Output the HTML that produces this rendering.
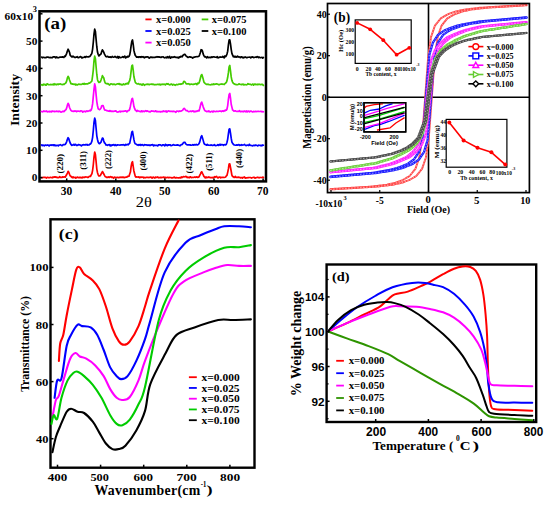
<!DOCTYPE html>
<html><head><meta charset="utf-8"><style>html,body{margin:0;padding:0;background:#fff;}svg{display:block}</style></head>
<body><svg width="550" height="505" viewBox="0 0 550 505">
<rect width="550" height="505" fill="#fff"/>
<rect x="39.5" y="11.3" width="226.5" height="170.1" fill="none" stroke="#000" stroke-width="2.5"/>
<path d="M41.50,177.58 L42.20,177.68 L42.90,177.48 L43.60,177.27 L44.30,177.42 L45.00,177.23 L45.70,177.60 L46.40,178.04 L47.10,177.40 L47.80,177.36 L48.50,177.74 L49.20,177.69 L49.90,177.60 L50.60,177.24 L51.30,177.55 L52.00,177.81 L52.70,177.09 L53.40,177.40 L54.10,176.89 L54.80,177.10 L55.50,176.90 L56.20,177.46 L56.90,177.09 L57.60,177.63 L58.30,177.58 L59.00,177.45 L59.70,176.62 L60.40,177.30 L61.10,177.46 L61.80,177.49 L62.50,176.88 L63.20,177.21 L63.90,176.96 L64.60,176.88 L65.30,177.18 L66.00,175.73 L66.70,174.55 L67.40,173.01 L68.10,171.36 L68.80,172.33 L69.50,174.25 L70.20,175.80 L70.90,176.26 L71.60,177.12 L72.30,177.73 L73.00,176.79 L73.70,177.68 L74.40,177.45 L75.10,177.20 L75.80,178.13 L76.50,177.71 L77.20,177.03 L77.90,177.47 L78.60,177.65 L79.30,177.38 L80.00,177.67 L80.70,177.40 L81.40,177.65 L82.10,177.91 L82.80,177.15 L83.50,177.44 L84.20,177.18 L84.90,177.36 L85.60,176.86 L86.30,177.02 L87.00,177.10 L87.70,177.40 L88.40,177.38 L89.10,176.38 L89.80,176.36 L90.50,176.51 L91.20,174.86 L91.90,173.72 L92.60,170.31 L93.30,164.74 L94.00,157.09 L94.70,152.01 L95.40,154.51 L96.10,161.68 L96.80,169.04 L97.50,172.68 L98.20,174.85 L98.90,175.93 L99.60,175.95 L100.30,175.55 L101.00,174.21 L101.70,173.04 L102.40,171.63 L103.10,172.55 L103.80,174.01 L104.50,175.38 L105.20,176.64 L105.90,176.78 L106.60,177.48 L107.30,177.21 L108.00,177.48 L108.70,176.87 L109.40,177.48 L110.10,176.79 L110.80,176.69 L111.50,177.31 L112.20,177.11 L112.90,177.50 L113.60,178.23 L114.30,177.16 L115.00,177.24 L115.70,177.53 L116.40,177.64 L117.10,177.40 L117.80,177.39 L118.50,177.71 L119.20,177.64 L119.90,177.09 L120.60,177.42 L121.30,177.45 L122.00,177.05 L122.70,177.50 L123.40,177.08 L124.10,177.70 L124.80,177.39 L125.50,177.30 L126.20,177.00 L126.90,177.07 L127.60,176.27 L128.30,176.32 L129.00,176.26 L129.70,173.98 L130.40,172.08 L131.10,166.55 L131.80,162.88 L132.50,161.72 L133.20,166.33 L133.90,170.95 L134.60,173.71 L135.30,176.37 L136.00,177.14 L136.70,176.92 L137.40,177.00 L138.10,177.15 L138.80,176.93 L139.50,177.71 L140.20,177.18 L140.90,177.38 L141.60,177.15 L142.30,177.23 L143.00,177.02 L143.70,177.92 L144.40,177.44 L145.10,177.84 L145.80,177.51 L146.50,177.27 L147.20,177.41 L147.90,177.33 L148.60,177.54 L149.30,177.41 L150.00,177.44 L150.70,177.06 L151.40,177.26 L152.10,178.13 L152.80,177.32 L153.50,177.19 L154.20,177.67 L154.90,178.05 L155.60,177.05 L156.30,177.49 L157.00,177.34 L157.70,176.95 L158.40,177.82 L159.10,177.56 L159.80,177.59 L160.50,177.30 L161.20,177.73 L161.90,177.38 L162.60,177.52 L163.30,177.18 L164.00,177.14 L164.70,178.04 L165.40,177.39 L166.10,177.67 L166.80,177.56 L167.50,177.42 L168.20,177.39 L168.90,177.79 L169.60,177.46 L170.30,177.52 L171.00,177.58 L171.70,177.98 L172.40,177.81 L173.10,177.70 L173.80,177.37 L174.50,177.08 L175.20,177.89 L175.90,177.90 L176.60,177.51 L177.30,177.74 L178.00,177.82 L178.70,177.83 L179.40,177.85 L180.10,177.35 L180.80,178.00 L181.50,176.94 L182.20,177.46 L182.90,176.95 L183.60,176.62 L184.30,176.73 L185.00,176.83 L185.70,176.37 L186.40,176.56 L187.10,177.65 L187.80,177.10 L188.50,177.48 L189.20,177.80 L189.90,176.94 L190.60,176.78 L191.30,177.61 L192.00,177.53 L192.70,177.42 L193.40,177.51 L194.10,177.19 L194.80,176.95 L195.50,177.40 L196.20,177.09 L196.90,176.81 L197.60,177.48 L198.30,177.12 L199.00,176.87 L199.70,175.49 L200.40,174.11 L201.10,172.33 L201.80,171.80 L202.50,173.35 L203.20,174.71 L203.90,176.38 L204.60,177.05 L205.30,177.93 L206.00,176.85 L206.70,177.71 L207.40,177.40 L208.10,177.45 L208.80,176.97 L209.50,177.33 L210.20,177.76 L210.90,177.48 L211.60,177.54 L212.30,177.41 L213.00,177.92 L213.70,177.51 L214.40,176.74 L215.10,177.27 L215.80,176.82 L216.50,176.37 L217.20,177.31 L217.90,177.96 L218.60,177.50 L219.30,177.06 L220.00,177.12 L220.70,177.83 L221.40,177.46 L222.10,177.39 L222.80,177.31 L223.50,177.29 L224.20,177.47 L224.90,177.26 L225.60,176.92 L226.30,175.98 L227.00,175.31 L227.70,172.34 L228.40,168.93 L229.10,164.10 L229.80,163.90 L230.50,167.44 L231.20,171.23 L231.90,175.24 L232.60,176.65 L233.30,176.60 L234.00,177.30 L234.70,177.30 L235.40,176.35 L236.10,177.41 L236.80,177.35 L237.50,177.44 L238.20,177.06 L238.90,177.36 L239.60,177.41 L240.30,177.91 L241.00,177.62 L241.70,177.51 L242.40,178.06 L243.10,177.34 L243.80,177.40 L244.50,176.91 L245.20,178.10 L245.90,177.89 L246.60,177.87 L247.30,177.79 L248.00,177.60 L248.70,177.64 L249.40,177.48 L250.10,177.50 L250.80,177.59 L251.50,178.10 L252.20,177.77 L252.90,177.55 L253.60,177.37 L254.30,177.35 L255.00,178.14 L255.70,177.76 L256.40,177.60 L257.10,177.46 L257.80,177.19 L258.50,177.56 L259.20,177.89 L259.90,177.45 L260.60,177.50 L261.30,177.51 L262.00,177.62 L262.70,177.03 L263.40,177.50" fill="none" stroke="#ff0000" stroke-width="1.7" stroke-linejoin="round" stroke-linecap="round" />
<path d="M41.50,144.98 L42.20,145.59 L42.90,145.01 L43.60,145.48 L44.30,145.81 L45.00,145.16 L45.70,145.06 L46.40,145.34 L47.10,145.27 L47.80,144.92 L48.50,145.43 L49.20,145.97 L49.90,145.17 L50.60,145.19 L51.30,144.89 L52.00,145.37 L52.70,144.82 L53.40,144.86 L54.10,145.69 L54.80,144.93 L55.50,145.62 L56.20,145.77 L56.90,145.32 L57.60,145.41 L58.30,145.89 L59.00,145.13 L59.70,144.98 L60.40,144.69 L61.10,145.16 L61.80,145.63 L62.50,145.41 L63.20,144.69 L63.90,144.64 L64.60,144.58 L65.30,144.42 L66.00,143.25 L66.70,141.58 L67.40,139.28 L68.10,137.66 L68.80,138.75 L69.50,141.14 L70.20,143.00 L70.90,144.34 L71.60,145.33 L72.30,145.09 L73.00,145.00 L73.70,144.44 L74.40,145.20 L75.10,144.41 L75.80,144.61 L76.50,145.42 L77.20,145.37 L77.90,145.07 L78.60,144.53 L79.30,144.99 L80.00,144.88 L80.70,145.33 L81.40,145.89 L82.10,145.16 L82.80,144.79 L83.50,144.63 L84.20,145.00 L84.90,144.92 L85.60,144.54 L86.30,144.93 L87.00,144.43 L87.70,145.13 L88.40,145.00 L89.10,144.86 L89.80,144.09 L90.50,144.06 L91.20,143.05 L91.90,141.15 L92.60,137.35 L93.30,130.50 L94.00,122.40 L94.70,118.10 L95.40,120.46 L96.10,128.29 L96.80,135.83 L97.50,139.53 L98.20,142.16 L98.90,143.40 L99.60,143.64 L100.30,142.92 L101.00,142.19 L101.70,140.04 L102.40,138.05 L103.10,138.56 L103.80,141.10 L104.50,142.88 L105.20,143.25 L105.90,144.97 L106.60,144.95 L107.30,145.34 L108.00,144.80 L108.70,144.89 L109.40,144.63 L110.10,145.95 L110.80,145.02 L111.50,145.66 L112.20,144.89 L112.90,145.19 L113.60,144.55 L114.30,145.01 L115.00,145.50 L115.70,144.72 L116.40,145.54 L117.10,145.28 L117.80,144.80 L118.50,144.99 L119.20,145.00 L119.90,145.14 L120.60,144.96 L121.30,144.85 L122.00,145.02 L122.70,144.76 L123.40,144.65 L124.10,145.06 L124.80,145.35 L125.50,144.47 L126.20,144.95 L126.90,144.64 L127.60,144.40 L128.30,144.82 L129.00,143.83 L129.70,143.30 L130.40,139.93 L131.10,136.29 L131.80,132.10 L132.50,131.39 L133.20,135.40 L133.90,139.38 L134.60,142.57 L135.30,143.82 L136.00,144.07 L136.70,144.68 L137.40,144.87 L138.10,145.28 L138.80,144.69 L139.50,145.04 L140.20,144.49 L140.90,145.35 L141.60,144.76 L142.30,144.53 L143.00,145.16 L143.70,145.58 L144.40,144.66 L145.10,144.83 L145.80,144.95 L146.50,144.83 L147.20,145.36 L147.90,144.95 L148.60,144.98 L149.30,145.44 L150.00,144.98 L150.70,145.40 L151.40,144.91 L152.10,144.83 L152.80,144.61 L153.50,145.91 L154.20,145.14 L154.90,145.34 L155.60,145.25 L156.30,145.32 L157.00,145.28 L157.70,145.93 L158.40,144.90 L159.10,144.72 L159.80,144.91 L160.50,144.80 L161.20,145.53 L161.90,145.55 L162.60,144.93 L163.30,144.78 L164.00,145.14 L164.70,145.75 L165.40,144.28 L166.10,145.45 L166.80,144.89 L167.50,145.63 L168.20,144.89 L168.90,145.16 L169.60,144.73 L170.30,144.92 L171.00,145.74 L171.70,145.54 L172.40,145.11 L173.10,144.95 L173.80,144.59 L174.50,145.11 L175.20,145.23 L175.90,145.21 L176.60,145.20 L177.30,144.83 L178.00,145.18 L178.70,145.18 L179.40,145.62 L180.10,145.78 L180.80,145.00 L181.50,144.59 L182.20,144.41 L182.90,143.47 L183.60,142.49 L184.30,142.24 L185.00,142.37 L185.70,143.87 L186.40,144.38 L187.10,144.93 L187.80,144.96 L188.50,144.85 L189.20,144.80 L189.90,145.06 L190.60,144.96 L191.30,145.24 L192.00,145.15 L192.70,144.67 L193.40,145.16 L194.10,144.65 L194.80,144.88 L195.50,144.95 L196.20,144.28 L196.90,144.96 L197.60,144.85 L198.30,144.45 L199.00,143.65 L199.70,142.13 L200.40,139.34 L201.10,136.72 L201.80,135.64 L202.50,137.88 L203.20,140.37 L203.90,143.07 L204.60,144.20 L205.30,144.60 L206.00,144.71 L206.70,145.16 L207.40,144.44 L208.10,145.23 L208.80,145.19 L209.50,145.23 L210.20,145.28 L210.90,144.93 L211.60,145.07 L212.30,145.40 L213.00,145.33 L213.70,145.25 L214.40,144.65 L215.10,145.37 L215.80,145.59 L216.50,145.52 L217.20,145.25 L217.90,144.61 L218.60,145.48 L219.30,145.08 L220.00,144.23 L220.70,145.22 L221.40,144.54 L222.10,144.57 L222.80,144.75 L223.50,145.34 L224.20,144.67 L224.90,144.75 L225.60,144.99 L226.30,144.33 L227.00,142.26 L227.70,139.11 L228.40,133.87 L229.10,129.20 L229.80,128.87 L230.50,133.11 L231.20,138.16 L231.90,142.05 L232.60,143.25 L233.30,144.26 L234.00,144.86 L234.70,144.98 L235.40,145.26 L236.10,145.10 L236.80,144.91 L237.50,145.19 L238.20,144.75 L238.90,144.55 L239.60,145.35 L240.30,145.15 L241.00,145.29 L241.70,144.60 L242.40,145.08 L243.10,145.00 L243.80,144.92 L244.50,144.44 L245.20,145.12 L245.90,145.55 L246.60,145.38 L247.30,145.04 L248.00,145.25 L248.70,145.52 L249.40,144.29 L250.10,145.22 L250.80,145.45 L251.50,145.50 L252.20,145.86 L252.90,145.66 L253.60,145.38 L254.30,145.38 L255.00,145.55 L255.70,145.08 L256.40,145.26 L257.10,145.59 L257.80,145.96 L258.50,145.22 L259.20,145.26 L259.90,145.35 L260.60,145.75 L261.30,145.27 L262.00,145.80 L262.70,144.94 L263.40,145.22" fill="none" stroke="#0000ff" stroke-width="1.7" stroke-linejoin="round" stroke-linecap="round" />
<path d="M41.50,111.41 L42.20,111.75 L42.90,111.84 L43.60,110.95 L44.30,111.15 L45.00,111.59 L45.70,111.24 L46.40,110.94 L47.10,111.83 L47.80,111.64 L48.50,111.64 L49.20,111.30 L49.90,111.82 L50.60,111.38 L51.30,111.84 L52.00,111.14 L52.70,111.15 L53.40,111.52 L54.10,111.20 L54.80,111.68 L55.50,111.53 L56.20,111.11 L56.90,111.45 L57.60,111.30 L58.30,111.73 L59.00,111.18 L59.70,111.23 L60.40,111.79 L61.10,112.13 L61.80,112.02 L62.50,111.30 L63.20,111.30 L63.90,111.67 L64.60,110.91 L65.30,110.18 L66.00,109.57 L66.70,107.87 L67.40,105.09 L68.10,103.39 L68.80,104.46 L69.50,107.50 L70.20,108.96 L70.90,110.32 L71.60,110.95 L72.30,111.30 L73.00,111.06 L73.70,111.41 L74.40,110.96 L75.10,111.16 L75.80,110.95 L76.50,111.71 L77.20,111.31 L77.90,111.07 L78.60,111.20 L79.30,111.25 L80.00,111.56 L80.70,110.75 L81.40,110.94 L82.10,111.15 L82.80,112.15 L83.50,111.58 L84.20,111.18 L84.90,111.44 L85.60,111.87 L86.30,111.01 L87.00,110.90 L87.70,111.37 L88.40,111.01 L89.10,110.92 L89.80,110.28 L90.50,110.76 L91.20,109.90 L91.90,107.69 L92.60,103.91 L93.30,96.45 L94.00,89.34 L94.70,83.96 L95.40,86.89 L96.10,94.67 L96.80,101.57 L97.50,105.76 L98.20,108.78 L98.90,109.31 L99.60,109.64 L100.30,109.14 L101.00,108.12 L101.70,105.72 L102.40,105.59 L103.10,105.64 L103.80,107.73 L104.50,109.79 L105.20,110.21 L105.90,110.11 L106.60,110.66 L107.30,110.66 L108.00,110.98 L108.70,111.23 L109.40,110.54 L110.10,111.39 L110.80,110.76 L111.50,111.41 L112.20,111.28 L112.90,111.22 L113.60,111.32 L114.30,111.16 L115.00,111.14 L115.70,110.77 L116.40,111.35 L117.10,112.01 L117.80,112.06 L118.50,111.83 L119.20,111.61 L119.90,111.12 L120.60,111.86 L121.30,111.33 L122.00,111.31 L122.70,111.22 L123.40,111.34 L124.10,111.13 L124.80,111.22 L125.50,110.83 L126.20,111.02 L126.90,111.88 L127.60,110.94 L128.30,110.66 L129.00,110.44 L129.70,109.31 L130.40,106.19 L131.10,102.61 L131.80,99.17 L132.50,98.44 L133.20,101.80 L133.90,106.38 L134.60,108.42 L135.30,110.11 L136.00,110.50 L136.70,111.46 L137.40,110.39 L138.10,110.92 L138.80,111.03 L139.50,111.50 L140.20,111.51 L140.90,111.82 L141.60,110.80 L142.30,111.63 L143.00,111.28 L143.70,111.16 L144.40,111.59 L145.10,111.09 L145.80,110.69 L146.50,111.29 L147.20,110.90 L147.90,111.21 L148.60,111.57 L149.30,111.55 L150.00,112.00 L150.70,111.38 L151.40,110.91 L152.10,111.19 L152.80,111.13 L153.50,111.03 L154.20,111.61 L154.90,111.23 L155.60,110.77 L156.30,111.70 L157.00,111.42 L157.70,111.59 L158.40,111.50 L159.10,111.69 L159.80,111.48 L160.50,111.90 L161.20,111.61 L161.90,111.60 L162.60,111.61 L163.30,110.96 L164.00,111.41 L164.70,111.38 L165.40,111.54 L166.10,110.99 L166.80,112.04 L167.50,111.50 L168.20,111.04 L168.90,110.87 L169.60,111.36 L170.30,111.43 L171.00,111.21 L171.70,111.49 L172.40,111.23 L173.10,111.65 L173.80,111.20 L174.50,111.44 L175.20,111.79 L175.90,112.34 L176.60,111.08 L177.30,111.26 L178.00,111.12 L178.70,111.68 L179.40,110.98 L180.10,111.18 L180.80,111.28 L181.50,110.79 L182.20,110.44 L182.90,109.98 L183.60,108.63 L184.30,108.45 L185.00,109.21 L185.70,110.18 L186.40,110.69 L187.10,110.49 L187.80,111.10 L188.50,111.60 L189.20,111.54 L189.90,111.33 L190.60,111.05 L191.30,111.59 L192.00,111.16 L192.70,110.94 L193.40,111.06 L194.10,111.83 L194.80,111.37 L195.50,111.66 L196.20,111.04 L196.90,111.46 L197.60,110.79 L198.30,110.66 L199.00,110.87 L199.70,108.73 L200.40,105.70 L201.10,102.98 L201.80,102.15 L202.50,104.47 L203.20,106.82 L203.90,108.57 L204.60,110.25 L205.30,110.86 L206.00,111.10 L206.70,111.62 L207.40,111.34 L208.10,111.55 L208.80,110.92 L209.50,111.63 L210.20,112.07 L210.90,111.62 L211.60,111.45 L212.30,111.42 L213.00,112.00 L213.70,111.05 L214.40,111.34 L215.10,111.53 L215.80,111.63 L216.50,111.21 L217.20,111.46 L217.90,111.25 L218.60,111.38 L219.30,111.27 L220.00,110.90 L220.70,111.27 L221.40,111.55 L222.10,110.86 L222.80,111.06 L223.50,111.30 L224.20,110.58 L224.90,110.86 L225.60,110.13 L226.30,110.24 L227.00,109.04 L227.70,105.57 L228.40,99.46 L229.10,94.51 L229.80,93.50 L230.50,98.12 L231.20,104.23 L231.90,107.13 L232.60,109.93 L233.30,110.38 L234.00,111.24 L234.70,111.00 L235.40,110.82 L236.10,111.23 L236.80,111.46 L237.50,111.26 L238.20,111.45 L238.90,111.13 L239.60,110.59 L240.30,111.67 L241.00,111.62 L241.70,111.44 L242.40,111.42 L243.10,111.77 L243.80,111.25 L244.50,111.17 L245.20,111.36 L245.90,111.85 L246.60,110.95 L247.30,111.86 L248.00,111.22 L248.70,111.06 L249.40,111.89 L250.10,111.42 L250.80,111.00 L251.50,111.34 L252.20,111.79 L252.90,111.88 L253.60,111.32 L254.30,111.61 L255.00,111.72 L255.70,111.25 L256.40,111.60 L257.10,111.46 L257.80,111.29 L258.50,111.30 L259.20,111.50 L259.90,111.49 L260.60,111.28 L261.30,111.33 L262.00,111.87 L262.70,111.56 L263.40,111.79" fill="none" stroke="#ff00ff" stroke-width="1.7" stroke-linejoin="round" stroke-linecap="round" />
<path d="M41.50,84.90 L42.20,84.68 L42.90,85.27 L43.60,84.18 L44.30,84.75 L45.00,84.36 L45.70,85.12 L46.40,85.06 L47.10,83.78 L47.80,84.13 L48.50,84.70 L49.20,84.74 L49.90,84.72 L50.60,84.43 L51.30,84.61 L52.00,84.68 L52.70,84.42 L53.40,84.81 L54.10,83.65 L54.80,84.66 L55.50,84.07 L56.20,84.76 L56.90,84.34 L57.60,84.10 L58.30,84.53 L59.00,84.07 L59.70,84.06 L60.40,83.81 L61.10,84.33 L61.80,84.48 L62.50,84.62 L63.20,84.15 L63.90,84.48 L64.60,83.92 L65.30,83.42 L66.00,82.59 L66.70,80.82 L67.40,77.85 L68.10,76.38 L68.80,77.47 L69.50,80.01 L70.20,81.76 L70.90,83.65 L71.60,83.69 L72.30,84.22 L73.00,83.87 L73.70,84.34 L74.40,84.39 L75.10,84.13 L75.80,85.00 L76.50,84.43 L77.20,84.93 L77.90,84.65 L78.60,84.08 L79.30,84.18 L80.00,84.46 L80.70,84.32 L81.40,84.30 L82.10,84.17 L82.80,83.62 L83.50,84.15 L84.20,83.42 L84.90,84.30 L85.60,83.87 L86.30,83.82 L87.00,83.92 L87.70,84.01 L88.40,83.30 L89.10,83.03 L89.80,83.03 L90.50,82.30 L91.20,81.86 L91.90,80.89 L92.60,75.99 L93.30,69.84 L94.00,60.79 L94.70,56.10 L95.40,58.68 L96.10,66.74 L96.80,74.47 L97.50,79.71 L98.20,81.52 L98.90,82.40 L99.60,82.10 L100.30,81.99 L101.00,80.05 L101.70,77.96 L102.40,75.68 L103.10,76.82 L103.80,78.04 L104.50,81.09 L105.20,83.06 L105.90,83.38 L106.60,83.55 L107.30,83.88 L108.00,83.58 L108.70,84.17 L109.40,85.03 L110.10,84.61 L110.80,83.85 L111.50,83.96 L112.20,84.14 L112.90,84.65 L113.60,84.02 L114.30,84.07 L115.00,84.63 L115.70,84.63 L116.40,84.20 L117.10,83.94 L117.80,83.79 L118.50,84.08 L119.20,83.54 L119.90,84.58 L120.60,84.08 L121.30,84.46 L122.00,84.93 L122.70,84.67 L123.40,83.83 L124.10,84.50 L124.80,84.55 L125.50,83.83 L126.20,83.67 L126.90,83.85 L127.60,83.15 L128.30,83.91 L129.00,81.83 L129.70,80.52 L130.40,77.13 L131.10,71.37 L131.80,65.83 L132.50,65.12 L133.20,70.00 L133.90,76.52 L134.60,79.56 L135.30,82.41 L136.00,83.05 L136.70,83.72 L137.40,83.95 L138.10,83.68 L138.80,83.87 L139.50,84.44 L140.20,84.33 L140.90,84.01 L141.60,85.00 L142.30,85.12 L143.00,83.82 L143.70,84.45 L144.40,85.24 L145.10,84.65 L145.80,84.46 L146.50,84.32 L147.20,84.21 L147.90,84.33 L148.60,84.22 L149.30,84.68 L150.00,84.29 L150.70,84.27 L151.40,84.01 L152.10,84.42 L152.80,84.13 L153.50,84.38 L154.20,84.81 L154.90,84.57 L155.60,84.62 L156.30,84.57 L157.00,84.47 L157.70,84.41 L158.40,84.35 L159.10,84.72 L159.80,84.08 L160.50,84.93 L161.20,84.47 L161.90,84.20 L162.60,84.29 L163.30,84.22 L164.00,84.51 L164.70,84.21 L165.40,84.86 L166.10,84.18 L166.80,83.66 L167.50,84.20 L168.20,83.75 L168.90,84.44 L169.60,84.83 L170.30,84.68 L171.00,83.99 L171.70,84.18 L172.40,85.07 L173.10,84.56 L173.80,84.45 L174.50,84.81 L175.20,85.29 L175.90,84.88 L176.60,84.47 L177.30,84.54 L178.00,84.62 L178.70,84.17 L179.40,83.99 L180.10,84.34 L180.80,83.92 L181.50,84.04 L182.20,83.67 L182.90,83.70 L183.60,81.65 L184.30,81.41 L185.00,81.87 L185.70,83.01 L186.40,83.98 L187.10,83.86 L187.80,83.93 L188.50,83.72 L189.20,84.00 L189.90,84.53 L190.60,84.36 L191.30,83.99 L192.00,84.22 L192.70,84.35 L193.40,84.50 L194.10,84.10 L194.80,84.19 L195.50,83.61 L196.20,83.79 L196.90,84.68 L197.60,83.21 L198.30,83.55 L199.00,83.00 L199.70,81.17 L200.40,78.30 L201.10,75.54 L201.80,74.53 L202.50,76.62 L203.20,79.09 L203.90,82.01 L204.60,82.99 L205.30,83.62 L206.00,84.11 L206.70,84.37 L207.40,84.52 L208.10,84.08 L208.80,84.61 L209.50,84.72 L210.20,84.73 L210.90,84.83 L211.60,84.30 L212.30,84.30 L213.00,84.65 L213.70,83.89 L214.40,84.44 L215.10,84.18 L215.80,84.23 L216.50,83.75 L217.20,84.04 L217.90,84.33 L218.60,84.64 L219.30,84.66 L220.00,84.26 L220.70,84.20 L221.40,83.94 L222.10,84.33 L222.80,84.04 L223.50,84.26 L224.20,84.56 L224.90,83.76 L225.60,82.95 L226.30,82.49 L227.00,80.63 L227.70,77.26 L228.40,72.67 L229.10,66.86 L229.80,65.44 L230.50,70.94 L231.20,76.92 L231.90,80.36 L232.60,82.28 L233.30,83.25 L234.00,83.83 L234.70,84.14 L235.40,84.45 L236.10,84.55 L236.80,84.61 L237.50,84.72 L238.20,84.51 L238.90,83.77 L239.60,84.29 L240.30,84.46 L241.00,84.23 L241.70,84.70 L242.40,84.27 L243.10,84.08 L243.80,84.92 L244.50,84.65 L245.20,84.50 L245.90,84.76 L246.60,84.81 L247.30,84.56 L248.00,83.58 L248.70,84.21 L249.40,84.29 L250.10,84.11 L250.80,84.53 L251.50,84.88 L252.20,84.29 L252.90,84.07 L253.60,85.18 L254.30,84.31 L255.00,84.04 L255.70,84.55 L256.40,84.62 L257.10,84.23 L257.80,84.75 L258.50,84.30 L259.20,84.15 L259.90,84.54 L260.60,84.75 L261.30,84.26 L262.00,84.59 L262.70,84.45 L263.40,85.47" fill="none" stroke="#44cc00" stroke-width="1.7" stroke-linejoin="round" stroke-linecap="round" />
<path d="M41.50,57.03 L42.20,57.76 L42.90,57.26 L43.60,57.23 L44.30,57.53 L45.00,57.58 L45.70,57.71 L46.40,57.38 L47.10,57.06 L47.80,57.08 L48.50,57.44 L49.20,57.47 L49.90,57.75 L50.60,57.40 L51.30,57.63 L52.00,57.78 L52.70,57.31 L53.40,56.73 L54.10,56.83 L54.80,56.74 L55.50,57.79 L56.20,56.93 L56.90,57.65 L57.60,57.42 L58.30,57.80 L59.00,57.54 L59.70,57.14 L60.40,57.09 L61.10,57.17 L61.80,57.17 L62.50,56.88 L63.20,56.99 L63.90,57.47 L64.60,56.12 L65.30,56.35 L66.00,54.88 L66.70,53.32 L67.40,51.06 L68.10,49.25 L68.80,50.60 L69.50,52.23 L70.20,55.27 L70.90,55.88 L71.60,56.85 L72.30,56.92 L73.00,56.05 L73.70,56.75 L74.40,57.13 L75.10,57.62 L75.80,57.20 L76.50,57.20 L77.20,56.62 L77.90,57.62 L78.60,57.75 L79.30,57.13 L80.00,57.03 L80.70,56.53 L81.40,57.40 L82.10,58.02 L82.80,57.31 L83.50,57.48 L84.20,57.20 L84.90,56.63 L85.60,57.40 L86.30,56.45 L87.00,56.74 L87.70,56.83 L88.40,56.92 L89.10,56.61 L89.80,56.37 L90.50,55.58 L91.20,54.60 L91.90,53.23 L92.60,49.07 L93.30,42.23 L94.00,34.05 L94.70,29.14 L95.40,31.42 L96.10,39.43 L96.80,46.72 L97.50,52.09 L98.20,54.50 L98.90,55.98 L99.60,54.90 L100.30,54.68 L101.00,53.91 L101.70,51.51 L102.40,49.86 L103.10,51.01 L103.80,52.38 L104.50,54.13 L105.20,55.36 L105.90,56.56 L106.60,56.82 L107.30,56.36 L108.00,56.57 L108.70,57.16 L109.40,57.21 L110.10,56.82 L110.80,57.29 L111.50,57.29 L112.20,56.48 L112.90,57.01 L113.60,57.27 L114.30,56.93 L115.00,56.39 L115.70,57.04 L116.40,57.41 L117.10,57.70 L117.80,56.38 L118.50,58.06 L119.20,56.75 L119.90,57.47 L120.60,57.56 L121.30,57.46 L122.00,57.16 L122.70,56.68 L123.40,57.28 L124.10,56.78 L124.80,56.11 L125.50,57.94 L126.20,57.12 L126.90,57.41 L127.60,56.31 L128.30,56.87 L129.00,56.30 L129.70,54.79 L130.40,51.10 L131.10,45.79 L131.80,41.31 L132.50,39.97 L133.20,44.44 L133.90,50.21 L134.60,53.38 L135.30,55.47 L136.00,56.24 L136.70,57.27 L137.40,57.22 L138.10,56.86 L138.80,57.38 L139.50,56.74 L140.20,56.94 L140.90,57.41 L141.60,56.68 L142.30,57.04 L143.00,56.69 L143.70,57.21 L144.40,57.75 L145.10,56.93 L145.80,57.28 L146.50,56.89 L147.20,56.81 L147.90,56.79 L148.60,57.73 L149.30,58.06 L150.00,57.40 L150.70,56.99 L151.40,57.49 L152.10,57.13 L152.80,57.53 L153.50,57.35 L154.20,57.35 L154.90,57.46 L155.60,57.05 L156.30,57.11 L157.00,56.65 L157.70,57.10 L158.40,56.76 L159.10,57.21 L159.80,56.92 L160.50,57.30 L161.20,57.42 L161.90,56.76 L162.60,56.98 L163.30,56.93 L164.00,57.52 L164.70,57.86 L165.40,57.56 L166.10,57.14 L166.80,57.78 L167.50,56.73 L168.20,57.79 L168.90,57.03 L169.60,56.29 L170.30,58.19 L171.00,57.81 L171.70,56.89 L172.40,57.31 L173.10,57.18 L173.80,57.28 L174.50,56.73 L175.20,57.00 L175.90,57.40 L176.60,57.31 L177.30,57.64 L178.00,57.24 L178.70,58.01 L179.40,56.92 L180.10,57.22 L180.80,56.38 L181.50,56.43 L182.20,56.90 L182.90,55.35 L183.60,54.94 L184.30,54.24 L185.00,54.37 L185.70,55.54 L186.40,56.24 L187.10,56.67 L187.80,57.30 L188.50,57.33 L189.20,56.94 L189.90,56.84 L190.60,57.26 L191.30,57.13 L192.00,57.53 L192.70,58.09 L193.40,57.45 L194.10,57.13 L194.80,57.06 L195.50,56.79 L196.20,56.73 L196.90,56.63 L197.60,56.73 L198.30,56.48 L199.00,56.29 L199.70,54.59 L200.40,52.49 L201.10,49.72 L201.80,49.90 L202.50,51.19 L203.20,54.12 L203.90,55.62 L204.60,56.85 L205.30,56.66 L206.00,57.17 L206.70,57.95 L207.40,56.63 L208.10,57.51 L208.80,57.72 L209.50,57.29 L210.20,57.42 L210.90,57.61 L211.60,56.94 L212.30,57.32 L213.00,56.87 L213.70,56.94 L214.40,56.96 L215.10,57.13 L215.80,57.23 L216.50,57.33 L217.20,56.65 L217.90,57.86 L218.60,57.55 L219.30,57.38 L220.00,56.97 L220.70,57.04 L221.40,57.24 L222.10,57.15 L222.80,56.34 L223.50,57.13 L224.20,57.81 L224.90,55.93 L225.60,56.66 L226.30,55.77 L227.00,53.99 L227.70,51.15 L228.40,44.92 L229.10,40.11 L229.80,39.79 L230.50,43.81 L231.20,49.34 L231.90,53.43 L232.60,55.21 L233.30,56.75 L234.00,56.22 L234.70,57.05 L235.40,56.40 L236.10,57.18 L236.80,56.96 L237.50,56.12 L238.20,57.08 L238.90,56.73 L239.60,56.98 L240.30,57.71 L241.00,56.77 L241.70,56.80 L242.40,57.72 L243.10,57.25 L243.80,57.77 L244.50,57.34 L245.20,56.91 L245.90,57.21 L246.60,57.68 L247.30,57.58 L248.00,57.25 L248.70,57.27 L249.40,57.21 L250.10,57.05 L250.80,57.95 L251.50,57.26 L252.20,56.86 L252.90,57.09 L253.60,57.53 L254.30,57.50 L255.00,57.22 L255.70,57.03 L256.40,57.28 L257.10,56.67 L257.80,56.81 L258.50,57.56 L259.20,57.10 L259.90,57.41 L260.60,57.72 L261.30,57.51 L262.00,57.29 L262.70,58.05 L263.40,57.52" fill="none" stroke="#000000" stroke-width="1.7" stroke-linejoin="round" stroke-linecap="round" />
<line x1="66.7" y1="181.4" x2="66.7" y2="178.4" stroke="#000" stroke-width="1.5"/>
<text x="60.75" y="194.70" font-size="11.5" style="font-family:'Liberation Serif',serif;font-weight:bold" fill="#000">30</text>
<line x1="115.80000000000001" y1="181.4" x2="115.80000000000001" y2="178.4" stroke="#000" stroke-width="1.5"/>
<text x="109.99" y="194.70" font-size="11.5" style="font-family:'Liberation Serif',serif;font-weight:bold" fill="#000">40</text>
<line x1="164.9" y1="181.4" x2="164.9" y2="178.4" stroke="#000" stroke-width="1.5"/>
<text x="158.94" y="194.70" font-size="11.5" style="font-family:'Liberation Serif',serif;font-weight:bold" fill="#000">50</text>
<line x1="214.0" y1="181.4" x2="214.0" y2="178.4" stroke="#000" stroke-width="1.5"/>
<text x="208.07" y="194.70" font-size="11.5" style="font-family:'Liberation Serif',serif;font-weight:bold" fill="#000">60</text>
<line x1="263.1" y1="181.4" x2="263.1" y2="178.4" stroke="#000" stroke-width="1.5"/>
<text x="257.04" y="194.70" font-size="11.5" style="font-family:'Liberation Serif',serif;font-weight:bold" fill="#000">70</text>
<line x1="39.5" y1="177.6" x2="42.5" y2="177.6" stroke="#000" stroke-width="1.5"/>
<text x="31.68" y="181.40" font-size="11.3" style="font-family:'Liberation Serif',serif;font-weight:bold" fill="#000">0</text>
<line x1="39.5" y1="150.29999999999998" x2="42.5" y2="150.29999999999998" stroke="#000" stroke-width="1.5"/>
<text x="26.03" y="154.10" font-size="11.3" style="font-family:'Liberation Serif',serif;font-weight:bold" fill="#000">10</text>
<line x1="39.5" y1="123.0" x2="42.5" y2="123.0" stroke="#000" stroke-width="1.5"/>
<text x="26.03" y="126.80" font-size="11.3" style="font-family:'Liberation Serif',serif;font-weight:bold" fill="#000">20</text>
<line x1="39.5" y1="95.69999999999999" x2="42.5" y2="95.69999999999999" stroke="#000" stroke-width="1.5"/>
<text x="26.03" y="99.50" font-size="11.3" style="font-family:'Liberation Serif',serif;font-weight:bold" fill="#000">30</text>
<line x1="39.5" y1="68.39999999999999" x2="42.5" y2="68.39999999999999" stroke="#000" stroke-width="1.5"/>
<text x="26.03" y="72.20" font-size="11.3" style="font-family:'Liberation Serif',serif;font-weight:bold" fill="#000">40</text>
<line x1="39.5" y1="41.099999999999994" x2="42.5" y2="41.099999999999994" stroke="#000" stroke-width="1.5"/>
<text x="26.03" y="44.90" font-size="11.3" style="font-family:'Liberation Serif',serif;font-weight:bold" fill="#000">50</text>
<line x1="39.5" y1="13.799999999999983" x2="42.5" y2="13.799999999999983" stroke="#000" stroke-width="1.5"/>
<text x="4.61" y="19.50" font-size="11.4" style="font-family:'Liberation Serif',serif;font-weight:bold" fill="#000">60x10</text>
<text x="32.88" y="12.30" font-size="7.4" style="font-family:'Liberation Serif',serif;font-weight:bold" fill="#000" textLength="4.20" lengthAdjust="spacingAndGlyphs">3</text>
<text x="-0.47" y="0" font-size="13" style="font-family:'Liberation Serif',serif;font-weight:bold" fill="#000" textLength="52.20" lengthAdjust="spacingAndGlyphs" transform="translate(19.00,125.60) rotate(-90)">Intensity</text>
<text x="135.88" y="206.60" font-size="15" style="font-family:'Liberation Serif',serif;font-weight:normal" fill="#000" textLength="16.01" lengthAdjust="spacingAndGlyphs">2θ</text>
<text x="44.27" y="28.50" font-size="16.4" style="font-family:'Liberation Serif',serif;font-weight:bold" fill="#000" textLength="22.06" lengthAdjust="spacingAndGlyphs">(a)</text>
<text x="-0.40" y="0" font-size="9" style="font-family:'Liberation Serif',serif;font-weight:bold" fill="#000" textLength="19.70" lengthAdjust="spacingAndGlyphs" transform="translate(62.50,173.20) rotate(-90)">(220)</text>
<text x="-0.38" y="0" font-size="9" style="font-family:'Liberation Serif',serif;font-weight:bold" fill="#000" textLength="18.87" lengthAdjust="spacingAndGlyphs" transform="translate(86.20,169.40) rotate(-90)">(311)</text>
<text x="-0.38" y="0" font-size="9" style="font-family:'Liberation Serif',serif;font-weight:bold" fill="#000" textLength="18.87" lengthAdjust="spacingAndGlyphs" transform="translate(111.10,168.60) rotate(-90)">(222)</text>
<text x="-0.39" y="0" font-size="9" style="font-family:'Liberation Serif',serif;font-weight:bold" fill="#000" textLength="19.07" lengthAdjust="spacingAndGlyphs" transform="translate(146.10,170.10) rotate(-90)">(400)</text>
<text x="-0.40" y="0" font-size="9" style="font-family:'Liberation Serif',serif;font-weight:bold" fill="#000" textLength="19.70" lengthAdjust="spacingAndGlyphs" transform="translate(191.90,173.20) rotate(-90)">(422)</text>
<text x="-0.37" y="0" font-size="9" style="font-family:'Liberation Serif',serif;font-weight:bold" fill="#000" textLength="18.24" lengthAdjust="spacingAndGlyphs" transform="translate(212.20,170.40) rotate(-90)">(511)</text>
<text x="-0.39" y="0" font-size="9" style="font-family:'Liberation Serif',serif;font-weight:bold" fill="#000" textLength="19.18" lengthAdjust="spacingAndGlyphs" transform="translate(241.50,167.60) rotate(-90)">(440)</text>
<line x1="145.4" y1="19.4" x2="151.6" y2="19.4" stroke="#ff0000" stroke-width="1.8"/>
<text x="155.96" y="23.10" font-size="9.8" style="font-family:'Liberation Serif',serif;font-weight:bold" fill="#000" textLength="34.84" lengthAdjust="spacingAndGlyphs">x=0.000</text>
<line x1="145.4" y1="31.0" x2="151.6" y2="31.0" stroke="#0000ff" stroke-width="1.8"/>
<text x="155.96" y="34.70" font-size="9.8" style="font-family:'Liberation Serif',serif;font-weight:bold" fill="#000" textLength="34.83" lengthAdjust="spacingAndGlyphs">x=0.025</text>
<line x1="145.4" y1="42.599999999999994" x2="151.6" y2="42.599999999999994" stroke="#ff00ff" stroke-width="1.8"/>
<text x="155.96" y="46.30" font-size="9.8" style="font-family:'Liberation Serif',serif;font-weight:bold" fill="#000" textLength="34.84" lengthAdjust="spacingAndGlyphs">x=0.050</text>
<line x1="201.7" y1="19.4" x2="208.3" y2="19.4" stroke="#44cc00" stroke-width="1.8"/>
<text x="211.76" y="23.10" font-size="9.8" style="font-family:'Liberation Serif',serif;font-weight:bold" fill="#000" textLength="34.83" lengthAdjust="spacingAndGlyphs">x=0.075</text>
<line x1="201.7" y1="31.0" x2="208.3" y2="31.0" stroke="#000000" stroke-width="1.8"/>
<text x="211.76" y="34.70" font-size="9.8" style="font-family:'Liberation Serif',serif;font-weight:bold" fill="#000" textLength="34.84" lengthAdjust="spacingAndGlyphs">x=0.100</text>
<rect x="50.5" y="219.3" width="204.0" height="248.39999999999998" fill="none" stroke="#000" stroke-width="2.4"/>
<path d="M58.90,360.90 C59.12,358.00 59.47,347.85 60.20,343.50 C60.93,339.15 62.22,339.52 63.30,334.80 C64.38,330.08 65.25,322.82 66.70,315.20 C68.15,307.58 70.40,296.70 72.00,289.10 C73.60,281.50 75.00,273.22 76.30,269.60 C77.60,265.98 78.50,266.68 79.80,267.40 C81.10,268.12 81.93,271.73 84.10,273.90 C86.27,276.07 90.27,277.87 92.80,280.40 C95.33,282.93 97.12,284.75 99.30,289.10 C101.48,293.45 103.72,299.97 105.90,306.50 C108.08,313.03 110.23,322.50 112.40,328.30 C114.57,334.10 116.95,338.55 118.90,341.30 C120.85,344.05 122.28,344.80 124.10,344.80 C125.92,344.80 127.40,344.42 129.80,341.30 C132.20,338.18 135.97,331.90 138.50,326.10 C141.03,320.30 143.10,312.47 145.00,306.50 C146.90,300.53 146.62,299.95 149.90,290.30 C153.18,280.65 159.93,260.23 164.70,248.60 C169.47,236.97 176.20,225.18 178.50,220.50" fill="none" stroke="#ff0000" stroke-width="2.1" stroke-linejoin="round" stroke-linecap="round" />
<path d="M54.60,397.80 C55.03,394.90 56.05,383.65 57.20,380.40 C58.35,377.15 59.92,384.08 61.50,378.30 C63.08,372.52 65.10,352.95 66.70,345.70 C68.30,338.45 69.28,338.28 71.10,334.80 C72.92,331.32 75.78,326.25 77.60,324.80 C79.42,323.35 79.82,325.67 82.00,326.10 C84.18,326.53 88.17,325.95 90.70,327.40 C93.23,328.85 95.03,331.03 97.20,334.80 C99.37,338.57 101.53,344.57 103.70,350.00 C105.87,355.43 108.03,363.05 110.20,367.40 C112.37,371.75 114.88,374.15 116.70,376.10 C118.52,378.05 119.28,379.10 121.10,379.10 C122.92,379.10 125.07,379.13 127.60,376.10 C130.13,373.07 133.40,367.07 136.30,360.90 C139.20,354.73 142.73,345.57 145.00,339.10 C147.27,332.63 146.62,333.22 149.90,322.10 C153.18,310.98 158.77,285.63 164.70,272.40 C170.63,259.17 179.55,248.88 185.50,242.70 C191.45,236.52 195.43,237.53 200.40,235.30 C205.37,233.07 211.33,230.80 215.30,229.30 C219.27,227.80 220.25,226.80 224.20,226.30 C228.15,225.80 234.55,226.15 239.00,226.30 C243.45,226.45 248.92,227.05 250.90,227.20" fill="none" stroke="#0000ff" stroke-width="2.1" stroke-linejoin="round" stroke-linecap="round" />
<path d="M52.80,415.20 C53.32,412.67 54.88,403.25 55.90,400.00 C56.92,396.75 57.45,399.68 58.90,395.70 C60.35,391.72 62.72,382.27 64.60,376.10 C66.48,369.93 68.40,362.55 70.20,358.70 C72.00,354.85 73.80,353.37 75.40,353.00 C77.00,352.63 77.98,355.55 79.80,356.50 C81.62,357.45 83.77,357.25 86.30,358.70 C88.83,360.15 92.10,362.30 95.00,365.20 C97.90,368.10 101.17,372.12 103.70,376.10 C106.23,380.08 108.03,385.48 110.20,389.10 C112.37,392.72 114.67,395.98 116.70,397.80 C118.73,399.62 120.22,400.13 122.40,400.00 C124.58,399.87 127.12,400.27 129.80,397.00 C132.48,393.73 135.97,386.42 138.50,380.40 C141.03,374.38 141.62,369.98 145.00,360.90 C148.38,351.82 154.03,337.18 158.80,325.90 C163.57,314.62 169.40,300.63 173.60,293.20 C177.80,285.77 179.03,284.77 184.00,281.30 C188.97,277.83 198.18,274.62 203.40,272.40 C208.62,270.18 211.33,269.23 215.30,268.00 C219.27,266.77 223.25,265.35 227.20,265.00 C231.15,264.65 235.05,265.75 239.00,265.90 C242.95,266.05 248.92,265.90 250.90,265.90" fill="none" stroke="#ff00ff" stroke-width="2.1" stroke-linejoin="round" stroke-linecap="round" />
<path d="M51.50,423.90 C51.87,422.45 52.75,416.07 53.70,415.20 C54.65,414.33 55.90,421.60 57.20,418.70 C58.50,415.80 59.77,404.18 61.50,397.80 C63.23,391.42 65.63,384.53 67.60,380.40 C69.57,376.27 71.63,374.45 73.30,373.00 C74.97,371.55 75.80,371.18 77.60,371.70 C79.40,372.22 81.57,373.92 84.10,376.10 C86.63,378.28 89.90,381.18 92.80,384.80 C95.70,388.42 98.60,392.73 101.50,397.80 C104.40,402.87 107.67,410.85 110.20,415.20 C112.73,419.55 114.67,422.23 116.70,423.90 C118.73,425.57 120.22,425.92 122.40,425.20 C124.58,424.48 127.12,423.08 129.80,419.60 C132.48,416.12 135.97,409.73 138.50,404.30 C141.03,398.87 141.62,401.05 145.00,387.00 C148.38,372.95 154.52,336.12 158.80,320.00 C163.08,303.88 166.25,298.48 170.70,290.30 C175.15,282.12 180.05,276.35 185.50,270.90 C190.95,265.45 196.95,261.45 203.40,257.60 C209.85,253.75 218.27,249.53 224.20,247.80 C230.13,246.07 234.55,247.65 239.00,247.20 C243.45,246.75 248.92,245.45 250.90,245.10" fill="none" stroke="#00cc00" stroke-width="2.1" stroke-linejoin="round" stroke-linecap="round" />
<path d="M52.40,452.20 C52.98,449.67 54.60,441.35 55.90,437.00 C57.20,432.65 58.40,430.32 60.20,426.10 C62.00,421.88 64.88,414.60 66.70,411.70 C68.52,408.80 69.28,408.70 71.10,408.70 C72.92,408.70 75.43,410.98 77.60,411.70 C79.77,412.42 81.57,411.33 84.10,413.00 C86.63,414.67 90.27,418.43 92.80,421.70 C95.33,424.97 97.12,428.97 99.30,432.60 C101.48,436.23 103.72,440.75 105.90,443.50 C108.08,446.25 110.23,448.17 112.40,449.10 C114.57,450.03 116.73,449.67 118.90,449.10 C121.07,448.53 122.50,448.82 125.40,445.70 C128.30,442.58 133.03,436.20 136.30,430.40 C139.57,424.60 142.65,418.67 145.00,410.90 C147.35,403.13 146.95,393.45 150.40,383.80 C153.85,374.15 161.33,361.15 165.70,353.00 C170.07,344.85 171.80,339.17 176.60,334.90 C181.40,330.63 187.57,329.88 194.50,327.40 C201.43,324.92 211.77,321.23 218.20,320.00 C224.63,318.77 227.65,320.10 233.10,320.00 C238.55,319.90 247.93,319.50 250.90,319.40" fill="none" stroke="#000000" stroke-width="2.1" stroke-linejoin="round" stroke-linecap="round" />
<line x1="57.5" y1="467.7" x2="57.5" y2="464.7" stroke="#000" stroke-width="1.5"/>
<text x="47.82" y="480.80" font-size="10.4" style="font-family:'Liberation Serif',serif;font-weight:bold" fill="#000" textLength="19.58" lengthAdjust="spacingAndGlyphs">400</text>
<line x1="100.6" y1="467.7" x2="100.6" y2="464.7" stroke="#000" stroke-width="1.5"/>
<text x="90.41" y="480.80" font-size="10.4" style="font-family:'Liberation Serif',serif;font-weight:bold" fill="#000" textLength="18.46" lengthAdjust="spacingAndGlyphs">500</text>
<line x1="143.7" y1="467.7" x2="143.7" y2="464.7" stroke="#000" stroke-width="1.5"/>
<text x="133.55" y="480.80" font-size="10.4" style="font-family:'Liberation Serif',serif;font-weight:bold" fill="#000" textLength="19.54" lengthAdjust="spacingAndGlyphs">600</text>
<line x1="186.8" y1="467.7" x2="186.8" y2="464.7" stroke="#000" stroke-width="1.5"/>
<text x="176.53" y="480.80" font-size="10.4" style="font-family:'Liberation Serif',serif;font-weight:bold" fill="#000" textLength="20.29" lengthAdjust="spacingAndGlyphs">700</text>
<line x1="229.9" y1="467.7" x2="229.9" y2="464.7" stroke="#000" stroke-width="1.5"/>
<text x="220.06" y="480.80" font-size="10.4" style="font-family:'Liberation Serif',serif;font-weight:bold" fill="#000" textLength="20.05" lengthAdjust="spacingAndGlyphs">800</text>
<line x1="50.5" y1="438.7" x2="53.5" y2="438.7" stroke="#000" stroke-width="1.5"/>
<text x="36.03" y="442.70" font-size="10.8" style="font-family:'Liberation Serif',serif;font-weight:bold" fill="#000" textLength="12.44" lengthAdjust="spacingAndGlyphs">40</text>
<line x1="50.5" y1="381.59999999999997" x2="53.5" y2="381.59999999999997" stroke="#000" stroke-width="1.5"/>
<text x="35.77" y="385.60" font-size="10.8" style="font-family:'Liberation Serif',serif;font-weight:bold" fill="#000" textLength="12.72" lengthAdjust="spacingAndGlyphs">60</text>
<line x1="50.5" y1="324.5" x2="53.5" y2="324.5" stroke="#000" stroke-width="1.5"/>
<text x="35.78" y="328.50" font-size="10.8" style="font-family:'Liberation Serif',serif;font-weight:bold" fill="#000" textLength="12.71" lengthAdjust="spacingAndGlyphs">80</text>
<line x1="50.5" y1="267.4" x2="53.5" y2="267.4" stroke="#000" stroke-width="1.5"/>
<text x="29.49" y="271.40" font-size="10.8" style="font-family:'Liberation Serif',serif;font-weight:bold" fill="#000" textLength="19.00" lengthAdjust="spacingAndGlyphs">100</text>
<text x="-0.18" y="0" font-size="13.5" style="font-family:'Liberation Serif',serif;font-weight:bold" fill="#000" textLength="95.80" lengthAdjust="spacingAndGlyphs" transform="translate(28.80,391.70) rotate(-90)">Transmittance (%)</text>
<text x="94.50" y="494.80" font-size="13.8" style="font-family:'Liberation Serif',serif;font-weight:bold" fill="#000" textLength="105.74" lengthAdjust="spacing">Wavenumber(cm</text>
<text x="200.75" y="487.00" font-size="8" style="font-family:'Liberation Serif',serif;font-weight:bold" fill="#000" textLength="5.59" lengthAdjust="spacingAndGlyphs">-1</text>
<text x="206.41" y="494.20" font-size="13.3" style="font-family:'Liberation Serif',serif;font-weight:bold" fill="#000" textLength="6.09" lengthAdjust="spacingAndGlyphs">)</text>
<text x="58.82" y="239.00" font-size="14" style="font-family:'Liberation Serif',serif;font-weight:bold" fill="#000" textLength="19.77" lengthAdjust="spacingAndGlyphs">(c)</text>
<line x1="188.9" y1="377.2" x2="196.8" y2="377.2" stroke="#ff0000" stroke-width="1.8"/>
<text x="201.56" y="380.80" font-size="10.4" style="font-family:'Liberation Serif',serif;font-weight:bold" fill="#000" textLength="38.08" lengthAdjust="spacingAndGlyphs">x=0.000</text>
<line x1="188.9" y1="387.95" x2="196.8" y2="387.95" stroke="#0000ff" stroke-width="1.8"/>
<text x="201.56" y="391.55" font-size="10.4" style="font-family:'Liberation Serif',serif;font-weight:bold" fill="#000" textLength="38.06" lengthAdjust="spacingAndGlyphs">x=0.025</text>
<line x1="188.9" y1="398.7" x2="196.8" y2="398.7" stroke="#ff00ff" stroke-width="1.8"/>
<text x="201.56" y="402.30" font-size="10.4" style="font-family:'Liberation Serif',serif;font-weight:bold" fill="#000" textLength="38.08" lengthAdjust="spacingAndGlyphs">x=0.050</text>
<line x1="188.9" y1="409.45" x2="196.8" y2="409.45" stroke="#00cc00" stroke-width="1.8"/>
<text x="201.56" y="413.05" font-size="10.4" style="font-family:'Liberation Serif',serif;font-weight:bold" fill="#000" textLength="38.06" lengthAdjust="spacingAndGlyphs">x=0.075</text>
<line x1="188.9" y1="420.2" x2="196.8" y2="420.2" stroke="#000000" stroke-width="1.8"/>
<text x="201.56" y="423.80" font-size="10.4" style="font-family:'Liberation Serif',serif;font-weight:bold" fill="#000" textLength="38.08" lengthAdjust="spacingAndGlyphs">x=0.100</text>
<rect x="326.6" y="264.5" width="209.60000000000002" height="157.5" fill="none" stroke="#000" stroke-width="2.4"/>
<path d="M328.00,331.50 C331.13,330.12 340.77,326.03 346.80,323.20 C352.83,320.37 358.75,317.23 364.20,314.50 C369.65,311.77 375.50,309.35 379.50,306.80 C383.50,304.25 385.67,301.27 388.20,299.20 C390.73,297.13 391.43,295.67 394.70,294.40 C397.97,293.13 403.43,292.98 407.80,291.60 C412.17,290.22 417.20,287.73 420.90,286.10 C424.60,284.47 426.30,283.78 430.00,281.80 C433.70,279.82 439.10,276.38 443.10,274.20 C447.10,272.02 450.73,269.98 454.00,268.70 C457.27,267.42 459.98,266.78 462.70,266.50 C465.42,266.22 468.12,266.27 470.30,267.00 C472.48,267.73 474.17,268.80 475.80,270.90 C477.43,273.00 478.83,275.60 480.10,279.60 C481.37,283.60 482.48,289.08 483.40,294.90 C484.32,300.72 484.98,307.60 485.60,314.50 C486.22,321.40 486.72,327.82 487.10,336.30 C487.48,344.78 487.57,356.30 487.90,365.40 C488.23,374.50 488.57,384.10 489.10,390.90 C489.63,397.70 490.05,403.15 491.10,406.20 C492.15,409.25 491.50,408.57 495.40,409.20 C499.30,409.83 508.35,409.75 514.50,410.00 C520.65,410.25 529.33,410.58 532.30,410.70" fill="none" stroke="#ff0000" stroke-width="2.0" stroke-linejoin="round" stroke-linecap="round" />
<path d="M328.00,331.50 C330.40,329.38 337.45,322.92 342.40,318.80 C347.35,314.68 352.25,310.60 357.70,306.80 C363.15,303.00 369.30,299.27 375.10,296.00 C380.90,292.73 386.33,289.38 392.50,287.20 C398.67,285.02 406.65,283.62 412.10,282.90 C417.55,282.18 421.38,282.53 425.20,282.90 C429.02,283.27 432.02,284.38 435.00,285.10 C437.98,285.82 439.93,285.75 443.10,287.20 C446.27,288.65 450.37,290.88 454.00,293.80 C457.63,296.72 461.63,300.90 464.90,304.70 C468.17,308.50 471.07,312.07 473.60,316.60 C476.13,321.13 478.28,326.45 480.10,331.90 C481.92,337.35 483.38,343.78 484.50,349.30 C485.62,354.82 486.17,359.33 486.80,365.00 C487.43,370.67 487.50,377.72 488.30,383.30 C489.10,388.88 489.98,395.33 491.60,398.50 C493.22,401.67 494.18,401.62 498.00,402.30 C501.82,402.98 508.78,402.52 514.50,402.60 C520.22,402.68 529.33,402.77 532.30,402.80" fill="none" stroke="#0000ff" stroke-width="2.0" stroke-linejoin="round" stroke-linecap="round" />
<path d="M328.00,331.50 C331.13,330.12 340.03,326.03 346.80,323.20 C353.57,320.37 361.33,317.23 368.60,314.50 C375.87,311.77 385.32,308.18 390.40,306.80 C395.48,305.42 394.75,306.20 399.10,306.20 C403.45,306.20 411.35,306.33 416.50,306.80 C421.65,307.27 425.57,308.08 430.00,309.00 C434.43,309.92 439.10,310.85 443.10,312.30 C447.10,313.75 450.37,315.35 454.00,317.70 C457.63,320.05 461.63,323.30 464.90,326.40 C468.17,329.50 470.88,332.48 473.60,336.30 C476.32,340.12 479.30,345.02 481.20,349.30 C483.10,353.58 483.95,358.03 485.00,362.00 C486.05,365.97 486.62,369.47 487.50,373.10 C488.38,376.73 488.77,381.77 490.30,383.80 C491.83,385.83 492.67,384.97 496.70,385.30 C500.73,385.63 508.57,385.63 514.50,385.80 C520.43,385.97 529.33,386.22 532.30,386.30" fill="none" stroke="#ff00ff" stroke-width="2.0" stroke-linejoin="round" stroke-linecap="round" />
<path d="M328.00,331.50 C331.13,332.65 340.03,335.97 346.80,338.40 C353.57,340.83 361.70,343.47 368.60,346.10 C375.50,348.73 382.97,351.68 388.20,354.20 C393.43,356.72 394.63,358.10 400.00,361.20 C405.37,364.30 413.62,368.95 420.40,372.80 C427.18,376.65 434.35,380.73 440.70,384.30 C447.05,387.87 452.98,390.98 458.50,394.20 C464.02,397.42 469.55,400.55 473.80,403.60 C478.05,406.65 481.45,410.38 484.00,412.50 C486.55,414.62 486.98,415.45 489.10,416.30 C491.22,417.15 492.47,417.17 496.70,417.60 C500.93,418.03 508.57,418.47 514.50,418.90 C520.43,419.33 529.33,419.98 532.30,420.20" fill="none" stroke="#2e9400" stroke-width="2.0" stroke-linejoin="round" stroke-linecap="round" />
<path d="M328.00,331.50 C329.68,329.57 334.25,323.47 338.10,319.90 C341.95,316.33 346.75,312.63 351.10,310.10 C355.45,307.57 359.83,305.97 364.20,304.70 C368.57,303.43 373.48,302.95 377.30,302.50 C381.12,302.05 384.20,301.90 387.10,302.00 C390.00,302.10 391.62,302.30 394.70,303.10 C397.78,303.90 401.60,304.90 405.60,306.80 C409.60,308.70 414.63,311.77 418.70,314.50 C422.77,317.23 425.93,319.93 430.00,323.20 C434.07,326.47 439.10,330.47 443.10,334.10 C447.10,337.73 450.73,341.37 454.00,345.00 C457.27,348.63 460.03,352.07 462.70,355.90 C465.37,359.73 467.73,364.28 470.00,368.00 C472.27,371.72 474.18,373.75 476.30,378.20 C478.42,382.65 481.00,390.03 482.70,394.70 C484.40,399.37 485.43,403.32 486.50,406.20 C487.57,409.08 487.83,410.73 489.10,412.00 C490.37,413.27 489.87,413.28 494.10,413.80 C498.33,414.32 508.13,414.77 514.50,415.10 C520.87,415.43 529.33,415.68 532.30,415.80" fill="none" stroke="#000000" stroke-width="2.0" stroke-linejoin="round" stroke-linecap="round" />
<line x1="375.7" y1="422.0" x2="375.7" y2="419.0" stroke="#000" stroke-width="1.5"/>
<text x="366.09" y="436.00" font-size="12" style="font-family:'Liberation Sans',sans-serif;font-weight:bold" fill="#000">200</text>
<line x1="428.4" y1="422.0" x2="428.4" y2="419.0" stroke="#000" stroke-width="1.5"/>
<text x="418.32" y="436.00" font-size="12" style="font-family:'Liberation Sans',sans-serif;font-weight:bold" fill="#000" textLength="19.77" lengthAdjust="spacingAndGlyphs">400</text>
<line x1="481.1" y1="422.0" x2="481.1" y2="419.0" stroke="#000" stroke-width="1.5"/>
<text x="471.56" y="436.00" font-size="12" style="font-family:'Liberation Sans',sans-serif;font-weight:bold" fill="#000">600</text>
<line x1="533.8" y1="422.0" x2="533.8" y2="419.0" stroke="#000" stroke-width="1.5"/>
<text x="523.63" y="436.00" font-size="12" style="font-family:'Liberation Sans',sans-serif;font-weight:bold" fill="#000" textLength="19.55" lengthAdjust="spacingAndGlyphs">800</text>
<line x1="326.6" y1="401.29999999999995" x2="329.6" y2="401.29999999999995" stroke="#000" stroke-width="1.5"/>
<text x="311.49" y="405.80" font-size="11.2" style="font-family:'Liberation Sans',sans-serif;font-weight:bold" fill="#000" textLength="13.08" lengthAdjust="spacingAndGlyphs">92</text>
<line x1="326.6" y1="366.5" x2="329.6" y2="366.5" stroke="#000" stroke-width="1.5"/>
<text x="311.49" y="371.00" font-size="11.2" style="font-family:'Liberation Sans',sans-serif;font-weight:bold" fill="#000" textLength="13.03" lengthAdjust="spacingAndGlyphs">96</text>
<line x1="326.6" y1="331.7" x2="329.6" y2="331.7" stroke="#000" stroke-width="1.5"/>
<text x="304.96" y="336.20" font-size="11.2" style="font-family:'Liberation Sans',sans-serif;font-weight:bold" fill="#000" textLength="19.62" lengthAdjust="spacingAndGlyphs">100</text>
<line x1="326.6" y1="296.9" x2="329.6" y2="296.9" stroke="#000" stroke-width="1.5"/>
<text x="304.98" y="301.40" font-size="11.2" style="font-family:'Liberation Sans',sans-serif;font-weight:bold" fill="#000" textLength="19.19" lengthAdjust="spacingAndGlyphs">104</text>
<line x1="326.6" y1="418.7" x2="328.6" y2="418.7" stroke="#000" stroke-width="1.2"/>
<line x1="326.6" y1="383.9" x2="328.6" y2="383.9" stroke="#000" stroke-width="1.2"/>
<line x1="326.6" y1="349.09999999999997" x2="328.6" y2="349.09999999999997" stroke="#000" stroke-width="1.2"/>
<line x1="326.6" y1="314.3" x2="328.6" y2="314.3" stroke="#000" stroke-width="1.2"/>
<line x1="326.6" y1="279.5" x2="328.6" y2="279.5" stroke="#000" stroke-width="1.2"/>
<text x="-1.44" y="0" font-size="14" style="font-family:'Liberation Serif',serif;font-weight:bold" fill="#000" transform="translate(301.30,394.80) rotate(-90)">% Weight change</text>
<text x="372.50" y="450.20" font-size="13.4" style="font-family:'Liberation Serif',serif;font-weight:bold" fill="#000" textLength="80.82" lengthAdjust="spacingAndGlyphs">Temperature (</text>
<text x="456.12" y="440.60" font-size="7.5" style="font-family:'Liberation Serif',serif;font-weight:bold" fill="#000">0</text>
<text x="459.77" y="450.20" font-size="13.4" style="font-family:'Liberation Serif',serif;font-weight:bold" fill="#000" textLength="10.76" lengthAdjust="spacingAndGlyphs">C</text>
<text x="472.56" y="450.40" font-size="13.4" style="font-family:'Liberation Serif',serif;font-weight:bold" fill="#000" textLength="6.61" lengthAdjust="spacingAndGlyphs">)</text>
<text x="331.96" y="281.20" font-size="13.2" style="font-family:'Liberation Serif',serif;font-weight:bold" fill="#000" textLength="17.67" lengthAdjust="spacingAndGlyphs">(d)</text>
<line x1="336.2" y1="360.8" x2="343.9" y2="360.8" stroke="#ff0000" stroke-width="1.8"/>
<text x="348.66" y="364.20" font-size="11" style="font-family:'Liberation Serif',serif;font-weight:bold" fill="#000" textLength="35.85" lengthAdjust="spacingAndGlyphs">x=0.000</text>
<line x1="336.2" y1="373.2" x2="343.9" y2="373.2" stroke="#0000ff" stroke-width="1.8"/>
<text x="348.66" y="376.60" font-size="11" style="font-family:'Liberation Serif',serif;font-weight:bold" fill="#000" textLength="35.84" lengthAdjust="spacingAndGlyphs">x=0.025</text>
<line x1="336.2" y1="385.6" x2="343.9" y2="385.6" stroke="#ff00ff" stroke-width="1.8"/>
<text x="348.66" y="389.00" font-size="11" style="font-family:'Liberation Serif',serif;font-weight:bold" fill="#000" textLength="35.85" lengthAdjust="spacingAndGlyphs">x=0.050</text>
<line x1="336.2" y1="398.0" x2="343.9" y2="398.0" stroke="#2e9400" stroke-width="1.8"/>
<text x="348.66" y="401.40" font-size="11" style="font-family:'Liberation Serif',serif;font-weight:bold" fill="#000" textLength="35.84" lengthAdjust="spacingAndGlyphs">x=0.075</text>
<line x1="336.2" y1="410.40000000000003" x2="343.9" y2="410.40000000000003" stroke="#000000" stroke-width="1.8"/>
<text x="348.66" y="413.80" font-size="11" style="font-family:'Liberation Serif',serif;font-weight:bold" fill="#000" textLength="35.85" lengthAdjust="spacingAndGlyphs">x=0.100</text>
<line x1="428.5" y1="3.5" x2="428.5" y2="192.6" stroke="#000" stroke-width="1.6"/>
<line x1="327.5" y1="97.2" x2="529.4" y2="97.2" stroke="#000" stroke-width="1.6"/>
<path d="M330.51,189.07 L331.93,188.98 L333.34,188.90 L334.75,188.81 L336.16,188.73 L337.58,188.64 L338.99,188.55 L340.40,188.47 L341.82,188.38 L343.23,188.30 L344.64,188.21 L346.05,188.12 L347.47,188.04 L348.88,187.95 L350.29,187.87 L351.71,187.78 L353.12,187.69 L354.53,187.61 L355.95,187.52 L357.36,187.44 L358.77,187.35 L360.18,187.26 L361.60,187.18 L363.01,187.09 L364.42,187.01 L365.84,186.92 L367.25,186.84 L368.66,186.75 L370.07,186.66 L371.49,186.52 L372.90,186.36 L374.31,186.19 L375.73,186.02 L377.14,185.85 L378.55,185.68 L379.96,185.51 L381.38,185.34 L382.79,185.17 L384.20,185.00 L385.62,184.83 L387.03,184.58 L388.44,184.26 L389.86,183.94 L391.27,183.63 L392.68,183.31 L394.09,182.99 L395.51,182.67 L396.92,182.15 L398.33,181.63 L399.75,181.10 L401.16,180.58 L402.57,180.06 L403.98,179.29 L405.40,178.47 L406.81,177.65 L408.22,176.84 L409.64,175.99 L411.05,174.23 L412.46,172.48 L413.88,170.72 L413.88,170.72 L414.12,170.42 L414.37,170.11 L414.61,169.81 L414.86,169.50 L415.10,169.20 L415.35,168.89 L415.60,168.32 L415.84,167.60 L416.09,166.88 L416.33,166.16 L416.58,165.44 L416.82,164.72 L417.07,164.00 L417.32,163.28 L417.56,162.56 L417.81,161.84 L418.05,161.12 L418.30,160.41 L418.55,159.69 L418.79,158.97 L419.04,158.25 L419.28,157.53 L419.53,156.00 L419.77,154.26 L420.02,152.52 L420.27,150.77 L420.51,149.03 L420.76,147.28 L421.00,145.54 L421.25,143.80 L421.49,142.05 L421.74,140.31 L421.99,138.57 L422.23,136.82 L422.48,133.69 L422.72,130.37 L422.97,127.06 L423.22,123.75 L423.46,120.44 L423.71,117.12 L423.95,113.81 L424.20,110.50 L424.44,107.18 L424.69,103.87 L424.94,100.56 L425.18,97.24 L425.43,93.93 L425.67,90.62 L425.92,87.31 L426.16,83.99 L426.41,80.68 L426.66,77.37 L426.90,74.05 L427.15,70.74 L427.39,67.43 L427.64,64.11 L427.89,60.80 L428.13,57.62 L428.38,55.88 L428.62,54.14 L428.87,52.39 L429.11,50.65 L429.36,48.91 L429.61,47.16 L429.85,45.42 L430.10,43.67 L430.34,41.93 L430.59,40.19 L430.84,38.44 L431.08,36.89 L431.33,36.17 L431.57,35.45 L431.82,34.73 L432.06,34.01 L432.31,33.29 L432.56,32.58 L432.80,31.86 L433.05,31.14 L433.29,30.42 L433.54,29.70 L433.78,28.98 L434.03,28.26 L434.28,27.54 L434.52,26.82 L434.77,26.10 L435.01,25.51 L435.26,25.21 L435.51,24.90 L435.75,24.60 L436.00,24.29 L436.24,23.99 L436.49,23.68 L436.73,23.38 L436.98,23.07 L437.23,22.77 L437.47,22.46 L437.72,22.16 L437.96,21.85 L438.21,21.55 L438.45,21.24 L438.70,20.94 L438.95,20.63 L439.19,20.33 L439.44,20.02 L439.68,19.72 L439.93,19.41 L440.18,19.11 L440.42,18.80 L440.67,18.50 L440.91,18.28 L441.16,18.13 L441.40,17.99 L441.65,17.85 L441.90,17.71 L442.14,17.57 L442.39,17.42 L442.63,17.28 L442.88,17.14 L443.12,17.00 L443.12,17.00 L444.54,16.18 L445.95,15.37 L447.36,14.55 L448.78,13.98 L450.19,13.46 L451.60,12.93 L453.02,12.41 L454.43,11.89 L455.84,11.50 L457.25,11.19 L458.67,10.87 L460.08,10.55 L461.49,10.24 L462.91,9.92 L464.32,9.62 L465.73,9.45 L467.14,9.28 L468.56,9.11 L469.97,8.94 L471.38,8.77 L472.80,8.60 L474.21,8.43 L475.62,8.27 L477.04,8.10 L478.45,7.93 L479.86,7.76 L481.27,7.68 L482.69,7.59 L484.10,7.51 L485.51,7.42 L486.93,7.33 L488.34,7.25 L489.75,7.16 L491.16,7.08 L492.58,6.99 L493.99,6.90 L495.40,6.82 L496.82,6.73 L498.23,6.65 L499.64,6.56 L501.05,6.47 L502.47,6.39 L503.88,6.30 L505.29,6.22 L506.71,6.13 L508.12,6.04 L509.53,5.96 L510.95,5.87 L512.36,5.79 L513.77,5.70 L515.18,5.62 L516.60,5.53 L518.01,5.44 L519.42,5.36 L520.84,5.27 L522.25,5.19 L523.66,5.10 L525.07,5.01 L526.49,4.93" fill="none" stroke="#ff4444" stroke-width="1.9" stroke-linejoin="round" stroke-linecap="round" />
<path d="M330.51,189.07 L331.93,188.98 L333.34,188.90 L334.75,188.81 L336.16,188.73 L337.58,188.64 L338.99,188.55 L340.40,188.47 L341.82,188.38 L343.23,188.30 L344.64,188.21 L346.05,188.12 L347.47,188.04 L348.88,187.95 L350.29,187.87 L351.71,187.78 L353.12,187.69 L354.53,187.61 L355.95,187.52 L357.36,187.44 L358.77,187.35 L360.18,187.26 L361.60,187.18 L363.01,187.09 L364.42,187.01 L365.84,186.92 L367.25,186.84 L368.66,186.75 L370.07,186.66 L371.49,186.52 L372.90,186.36 L374.31,186.19 L375.73,186.02 L377.14,185.85 L378.55,185.68 L379.96,185.51 L381.38,185.34 L382.79,185.17 L384.20,185.00 L385.62,184.83 L387.03,184.58 L388.44,184.26 L389.86,183.94 L391.27,183.63 L392.68,183.31 L394.09,182.99 L395.51,182.67 L396.92,182.15 L398.33,181.63 L399.75,181.10 L401.16,180.58 L402.57,180.06 L403.98,179.29 L405.40,178.47 L406.81,177.65 L408.22,176.84 L409.64,175.99 L411.05,174.23 L412.46,172.48 L413.88,170.72 L413.88,170.72 L414.12,170.42 L414.37,170.11 L414.61,169.81 L414.86,169.50 L415.10,169.20 L415.35,168.89 L415.60,168.32 L415.84,167.60 L416.09,166.88 L416.33,166.16 L416.58,165.44 L416.82,164.72 L417.07,164.00 L417.32,163.28 L417.56,162.56 L417.81,161.84 L418.05,161.12 L418.30,160.41 L418.55,159.69 L418.79,158.97 L419.04,158.25 L419.28,157.53 L419.53,156.00 L419.77,154.26 L420.02,152.52 L420.27,150.77 L420.51,149.03 L420.76,147.28 L421.00,145.54 L421.25,143.80 L421.49,142.05 L421.74,140.31 L421.99,138.57 L422.23,136.82 L422.48,133.69 L422.72,130.37 L422.97,127.06 L423.22,123.75 L423.46,120.44 L423.71,117.12 L423.95,113.81 L424.20,110.50 L424.44,107.18 L424.69,103.87 L424.94,100.56 L425.18,97.24 L425.43,93.93 L425.67,90.62 L425.92,87.31 L426.16,83.99 L426.41,80.68 L426.66,77.37 L426.90,74.05 L427.15,70.74 L427.39,67.43 L427.64,64.11 L427.89,60.80 L428.13,57.62 L428.38,55.88 L428.62,54.14 L428.87,52.39 L429.11,50.65 L429.36,48.91 L429.61,47.16 L429.85,45.42 L430.10,43.67 L430.34,41.93 L430.59,40.19 L430.84,38.44 L431.08,36.89 L431.33,36.17 L431.57,35.45 L431.82,34.73 L432.06,34.01 L432.31,33.29 L432.56,32.58 L432.80,31.86 L433.05,31.14 L433.29,30.42 L433.54,29.70 L433.78,28.98 L434.03,28.26 L434.28,27.54 L434.52,26.82 L434.77,26.10 L435.01,25.51 L435.26,25.21 L435.51,24.90 L435.75,24.60 L436.00,24.29 L436.24,23.99 L436.49,23.68 L436.73,23.38 L436.98,23.07 L437.23,22.77 L437.47,22.46 L437.72,22.16 L437.96,21.85 L438.21,21.55 L438.45,21.24 L438.70,20.94 L438.95,20.63 L439.19,20.33 L439.44,20.02 L439.68,19.72 L439.93,19.41 L440.18,19.11 L440.42,18.80 L440.67,18.50 L440.91,18.28 L441.16,18.13 L441.40,17.99 L441.65,17.85 L441.90,17.71 L442.14,17.57 L442.39,17.42 L442.63,17.28 L442.88,17.14 L443.12,17.00 L443.12,17.00 L444.54,16.18 L445.95,15.37 L447.36,14.55 L448.78,13.98 L450.19,13.46 L451.60,12.93 L453.02,12.41 L454.43,11.89 L455.84,11.50 L457.25,11.19 L458.67,10.87 L460.08,10.55 L461.49,10.24 L462.91,9.92 L464.32,9.62 L465.73,9.45 L467.14,9.28 L468.56,9.11 L469.97,8.94 L471.38,8.77 L472.80,8.60 L474.21,8.43 L475.62,8.27 L477.04,8.10 L478.45,7.93 L479.86,7.76 L481.27,7.68 L482.69,7.59 L484.10,7.51 L485.51,7.42 L486.93,7.33 L488.34,7.25 L489.75,7.16 L491.16,7.08 L492.58,6.99 L493.99,6.90 L495.40,6.82 L496.82,6.73 L498.23,6.65 L499.64,6.56 L501.05,6.47 L502.47,6.39 L503.88,6.30 L505.29,6.22 L506.71,6.13 L508.12,6.04 L509.53,5.96 L510.95,5.87 L512.36,5.79 L513.77,5.70 L515.18,5.62 L516.60,5.53 L518.01,5.44 L519.42,5.36 L520.84,5.27 L522.25,5.19 L523.66,5.10 L525.07,5.01 L526.49,4.93" fill="none" stroke="#ffffff" stroke-width="0.7" stroke-linejoin="round" stroke-linecap="round" stroke-dasharray="0.8 2.2" opacity="0.7"/>
<path d="M330.51,189.47 L331.93,189.39 L333.34,189.30 L334.75,189.21 L336.16,189.13 L337.58,189.04 L338.99,188.96 L340.40,188.87 L341.82,188.78 L343.23,188.70 L344.64,188.61 L346.05,188.53 L347.47,188.44 L348.88,188.36 L350.29,188.27 L351.71,188.18 L353.12,188.10 L354.53,188.01 L355.95,187.93 L357.36,187.84 L358.77,187.75 L360.18,187.67 L361.60,187.58 L363.01,187.50 L364.42,187.41 L365.84,187.32 L367.25,187.24 L368.66,187.15 L370.07,187.07 L371.49,186.98 L372.90,186.89 L374.31,186.81 L375.73,186.72 L377.14,186.64 L378.55,186.47 L379.96,186.30 L381.38,186.13 L382.79,185.97 L384.20,185.80 L385.62,185.63 L387.03,185.46 L388.44,185.29 L389.86,185.12 L391.27,184.95 L392.68,184.78 L394.09,184.48 L395.51,184.16 L396.92,183.85 L398.33,183.53 L399.75,183.21 L401.16,182.90 L402.57,182.51 L403.98,181.99 L405.40,181.47 L406.81,180.94 L408.22,180.42 L409.64,179.85 L411.05,179.03 L412.46,178.22 L413.88,177.40 L413.88,177.40 L414.12,177.26 L414.37,177.12 L414.61,176.98 L414.86,176.83 L415.10,176.69 L415.35,176.55 L415.60,176.41 L415.84,176.27 L416.09,176.12 L416.33,175.90 L416.58,175.60 L416.82,175.29 L417.07,174.99 L417.32,174.68 L417.56,174.38 L417.81,174.07 L418.05,173.77 L418.30,173.46 L418.55,173.16 L418.79,172.85 L419.04,172.55 L419.28,172.24 L419.53,171.94 L419.77,171.63 L420.02,171.33 L420.27,171.02 L420.51,170.72 L420.76,170.41 L421.00,170.11 L421.25,169.80 L421.49,169.50 L421.74,169.19 L421.99,168.89 L422.23,168.30 L422.48,167.58 L422.72,166.86 L422.97,166.14 L423.22,165.42 L423.46,164.70 L423.71,163.98 L423.95,163.26 L424.20,162.54 L424.44,161.82 L424.69,161.11 L424.94,160.39 L425.18,159.67 L425.43,158.95 L425.67,158.23 L425.92,157.51 L426.16,155.96 L426.41,154.21 L426.66,152.47 L426.90,150.73 L427.15,148.98 L427.39,147.24 L427.64,145.49 L427.89,143.75 L428.13,142.01 L428.38,140.26 L428.62,138.52 L428.87,136.78 L429.11,133.60 L429.36,130.29 L429.61,126.97 L429.85,123.66 L430.10,120.35 L430.34,117.03 L430.59,113.72 L430.84,110.41 L431.08,107.09 L431.33,103.78 L431.57,100.47 L431.82,97.16 L432.06,93.84 L432.31,90.53 L432.56,87.22 L432.80,83.90 L433.05,80.59 L433.29,77.28 L433.54,73.96 L433.78,70.65 L434.03,67.34 L434.28,64.03 L434.52,60.71 L434.77,57.58 L435.01,55.83 L435.26,54.09 L435.51,52.35 L435.75,50.60 L436.00,48.86 L436.24,47.12 L436.49,45.37 L436.73,43.63 L436.98,41.88 L437.23,40.14 L437.47,38.40 L437.72,36.87 L437.96,36.15 L438.21,35.43 L438.45,34.71 L438.70,33.99 L438.95,33.28 L439.19,32.56 L439.44,31.84 L439.68,31.12 L439.93,30.40 L440.18,29.68 L440.42,28.96 L440.67,28.24 L440.91,27.52 L441.16,26.80 L441.40,26.08 L441.65,25.51 L441.90,25.20 L442.14,24.90 L442.39,24.59 L442.63,24.29 L442.88,23.98 L443.12,23.68 L443.12,23.68 L444.54,21.92 L445.95,20.17 L447.36,18.41 L448.78,17.56 L450.19,16.75 L451.60,15.93 L453.02,15.11 L454.43,14.34 L455.84,13.82 L457.25,13.30 L458.67,12.77 L460.08,12.25 L461.49,11.73 L462.91,11.41 L464.32,11.09 L465.73,10.77 L467.14,10.46 L468.56,10.14 L469.97,9.82 L471.38,9.57 L472.80,9.40 L474.21,9.23 L475.62,9.06 L477.04,8.89 L478.45,8.72 L479.86,8.55 L481.27,8.38 L482.69,8.21 L484.10,8.04 L485.51,7.88 L486.93,7.74 L488.34,7.65 L489.75,7.56 L491.16,7.48 L492.58,7.39 L493.99,7.31 L495.40,7.22 L496.82,7.14 L498.23,7.05 L499.64,6.96 L501.05,6.88 L502.47,6.79 L503.88,6.71 L505.29,6.62 L506.71,6.53 L508.12,6.45 L509.53,6.36 L510.95,6.28 L512.36,6.19 L513.77,6.10 L515.18,6.02 L516.60,5.93 L518.01,5.85 L519.42,5.76 L520.84,5.67 L522.25,5.59 L523.66,5.50 L525.07,5.42 L526.49,5.33" fill="none" stroke="#ff4444" stroke-width="1.9" stroke-linejoin="round" stroke-linecap="round" />
<path d="M330.51,189.47 L331.93,189.39 L333.34,189.30 L334.75,189.21 L336.16,189.13 L337.58,189.04 L338.99,188.96 L340.40,188.87 L341.82,188.78 L343.23,188.70 L344.64,188.61 L346.05,188.53 L347.47,188.44 L348.88,188.36 L350.29,188.27 L351.71,188.18 L353.12,188.10 L354.53,188.01 L355.95,187.93 L357.36,187.84 L358.77,187.75 L360.18,187.67 L361.60,187.58 L363.01,187.50 L364.42,187.41 L365.84,187.32 L367.25,187.24 L368.66,187.15 L370.07,187.07 L371.49,186.98 L372.90,186.89 L374.31,186.81 L375.73,186.72 L377.14,186.64 L378.55,186.47 L379.96,186.30 L381.38,186.13 L382.79,185.97 L384.20,185.80 L385.62,185.63 L387.03,185.46 L388.44,185.29 L389.86,185.12 L391.27,184.95 L392.68,184.78 L394.09,184.48 L395.51,184.16 L396.92,183.85 L398.33,183.53 L399.75,183.21 L401.16,182.90 L402.57,182.51 L403.98,181.99 L405.40,181.47 L406.81,180.94 L408.22,180.42 L409.64,179.85 L411.05,179.03 L412.46,178.22 L413.88,177.40 L413.88,177.40 L414.12,177.26 L414.37,177.12 L414.61,176.98 L414.86,176.83 L415.10,176.69 L415.35,176.55 L415.60,176.41 L415.84,176.27 L416.09,176.12 L416.33,175.90 L416.58,175.60 L416.82,175.29 L417.07,174.99 L417.32,174.68 L417.56,174.38 L417.81,174.07 L418.05,173.77 L418.30,173.46 L418.55,173.16 L418.79,172.85 L419.04,172.55 L419.28,172.24 L419.53,171.94 L419.77,171.63 L420.02,171.33 L420.27,171.02 L420.51,170.72 L420.76,170.41 L421.00,170.11 L421.25,169.80 L421.49,169.50 L421.74,169.19 L421.99,168.89 L422.23,168.30 L422.48,167.58 L422.72,166.86 L422.97,166.14 L423.22,165.42 L423.46,164.70 L423.71,163.98 L423.95,163.26 L424.20,162.54 L424.44,161.82 L424.69,161.11 L424.94,160.39 L425.18,159.67 L425.43,158.95 L425.67,158.23 L425.92,157.51 L426.16,155.96 L426.41,154.21 L426.66,152.47 L426.90,150.73 L427.15,148.98 L427.39,147.24 L427.64,145.49 L427.89,143.75 L428.13,142.01 L428.38,140.26 L428.62,138.52 L428.87,136.78 L429.11,133.60 L429.36,130.29 L429.61,126.97 L429.85,123.66 L430.10,120.35 L430.34,117.03 L430.59,113.72 L430.84,110.41 L431.08,107.09 L431.33,103.78 L431.57,100.47 L431.82,97.16 L432.06,93.84 L432.31,90.53 L432.56,87.22 L432.80,83.90 L433.05,80.59 L433.29,77.28 L433.54,73.96 L433.78,70.65 L434.03,67.34 L434.28,64.03 L434.52,60.71 L434.77,57.58 L435.01,55.83 L435.26,54.09 L435.51,52.35 L435.75,50.60 L436.00,48.86 L436.24,47.12 L436.49,45.37 L436.73,43.63 L436.98,41.88 L437.23,40.14 L437.47,38.40 L437.72,36.87 L437.96,36.15 L438.21,35.43 L438.45,34.71 L438.70,33.99 L438.95,33.28 L439.19,32.56 L439.44,31.84 L439.68,31.12 L439.93,30.40 L440.18,29.68 L440.42,28.96 L440.67,28.24 L440.91,27.52 L441.16,26.80 L441.40,26.08 L441.65,25.51 L441.90,25.20 L442.14,24.90 L442.39,24.59 L442.63,24.29 L442.88,23.98 L443.12,23.68 L443.12,23.68 L444.54,21.92 L445.95,20.17 L447.36,18.41 L448.78,17.56 L450.19,16.75 L451.60,15.93 L453.02,15.11 L454.43,14.34 L455.84,13.82 L457.25,13.30 L458.67,12.77 L460.08,12.25 L461.49,11.73 L462.91,11.41 L464.32,11.09 L465.73,10.77 L467.14,10.46 L468.56,10.14 L469.97,9.82 L471.38,9.57 L472.80,9.40 L474.21,9.23 L475.62,9.06 L477.04,8.89 L478.45,8.72 L479.86,8.55 L481.27,8.38 L482.69,8.21 L484.10,8.04 L485.51,7.88 L486.93,7.74 L488.34,7.65 L489.75,7.56 L491.16,7.48 L492.58,7.39 L493.99,7.31 L495.40,7.22 L496.82,7.14 L498.23,7.05 L499.64,6.96 L501.05,6.88 L502.47,6.79 L503.88,6.71 L505.29,6.62 L506.71,6.53 L508.12,6.45 L509.53,6.36 L510.95,6.28 L512.36,6.19 L513.77,6.10 L515.18,6.02 L516.60,5.93 L518.01,5.85 L519.42,5.76 L520.84,5.67 L522.25,5.59 L523.66,5.50 L525.07,5.42 L526.49,5.33" fill="none" stroke="#ffffff" stroke-width="0.7" stroke-linejoin="round" stroke-linecap="round" stroke-dasharray="0.8 2.2" opacity="0.7"/>
<path d="M330.51,176.64 L331.93,176.52 L333.34,176.39 L334.75,176.26 L336.16,176.14 L337.58,176.01 L338.99,175.88 L340.40,175.76 L341.82,175.63 L343.23,175.50 L344.64,175.38 L346.05,175.25 L347.47,175.12 L348.88,175.00 L350.29,174.87 L351.71,174.74 L353.12,174.62 L354.53,174.49 L355.95,174.36 L357.36,174.24 L358.77,174.11 L360.18,173.98 L361.60,173.86 L363.01,173.73 L364.42,173.60 L365.84,173.48 L367.25,173.35 L368.66,173.22 L370.07,173.10 L371.49,172.97 L372.90,172.77 L374.31,172.54 L375.73,172.31 L377.14,172.08 L378.55,171.85 L379.96,171.62 L381.38,171.39 L382.79,171.16 L384.20,170.93 L385.62,170.70 L387.03,170.47 L388.44,170.24 L389.86,169.88 L391.27,169.53 L392.68,169.17 L394.09,168.82 L395.51,168.47 L396.92,168.09 L398.33,167.55 L399.75,167.02 L401.16,166.49 L402.57,165.95 L403.98,165.42 L405.40,164.88 L406.81,164.35 L408.22,163.47 L409.64,162.48 L411.05,161.49 L412.46,160.51 L413.88,159.52 L413.88,159.52 L414.12,159.23 L414.37,158.85 L414.61,158.48 L414.86,158.11 L415.10,157.74 L415.35,157.36 L415.60,156.99 L415.84,156.62 L416.09,156.25 L416.33,155.88 L416.58,155.50 L416.82,155.13 L417.07,154.76 L417.32,154.39 L417.56,154.01 L417.81,153.64 L418.05,153.27 L418.30,152.90 L418.55,152.53 L418.79,152.15 L419.04,151.78 L419.28,150.95 L419.53,150.11 L419.77,149.26 L420.02,148.42 L420.27,147.58 L420.51,146.74 L420.76,145.89 L421.00,145.05 L421.25,144.21 L421.49,143.36 L421.74,142.52 L421.99,141.68 L422.23,140.84 L422.48,139.99 L422.72,137.60 L422.97,134.54 L423.22,131.48 L423.46,128.41 L423.71,125.35 L423.95,122.28 L424.20,119.22 L424.44,116.16 L424.69,113.09 L424.94,110.03 L425.18,106.96 L425.43,103.90 L425.67,100.84 L425.92,97.77 L426.16,94.71 L426.41,91.64 L426.66,88.58 L426.90,85.52 L427.15,82.45 L427.39,79.39 L427.64,76.32 L427.89,73.26 L428.13,70.20 L428.38,67.13 L428.62,64.07 L428.87,61.00 L429.11,57.94 L429.36,54.88 L429.61,53.88 L429.85,53.04 L430.10,52.19 L430.34,51.35 L430.59,50.51 L430.84,49.66 L431.08,48.82 L431.33,47.98 L431.57,47.14 L431.82,46.29 L432.06,45.45 L432.31,44.61 L432.56,43.77 L432.80,42.92 L433.05,42.39 L433.29,42.01 L433.54,41.64 L433.78,41.27 L434.03,40.90 L434.28,40.52 L434.52,40.15 L434.77,39.78 L435.01,39.41 L435.26,39.04 L435.51,38.66 L435.75,38.29 L436.00,37.92 L436.24,37.55 L436.49,37.17 L436.73,36.80 L436.98,36.43 L437.23,36.06 L437.47,35.69 L437.72,35.31 L437.96,34.95 L438.21,34.77 L438.45,34.60 L438.70,34.43 L438.95,34.26 L439.19,34.09 L439.44,33.91 L439.68,33.74 L439.93,33.57 L440.18,33.40 L440.42,33.23 L440.67,33.06 L440.91,32.88 L441.16,32.71 L441.40,32.54 L441.65,32.37 L441.90,32.20 L442.14,32.02 L442.39,31.85 L442.63,31.68 L442.88,31.51 L443.12,31.34 L443.12,31.34 L444.54,30.35 L445.95,29.74 L447.36,29.20 L448.78,28.67 L450.19,28.13 L451.60,27.60 L453.02,27.07 L454.43,26.53 L455.84,26.08 L457.25,25.72 L458.67,25.37 L460.08,25.02 L461.49,24.66 L462.91,24.31 L464.32,24.03 L465.73,23.80 L467.14,23.57 L468.56,23.34 L469.97,23.11 L471.38,22.88 L472.80,22.65 L474.21,22.42 L475.62,22.19 L477.04,21.96 L478.45,21.73 L479.86,21.50 L481.27,21.36 L482.69,21.23 L484.10,21.10 L485.51,20.98 L486.93,20.85 L488.34,20.72 L489.75,20.60 L491.16,20.47 L492.58,20.34 L493.99,20.22 L495.40,20.09 L496.82,19.96 L498.23,19.84 L499.64,19.71 L501.05,19.58 L502.47,19.46 L503.88,19.33 L505.29,19.20 L506.71,19.08 L508.12,18.95 L509.53,18.82 L510.95,18.70 L512.36,18.57 L513.77,18.44 L515.18,18.32 L516.60,18.19 L518.01,18.06 L519.42,17.94 L520.84,17.81 L522.25,17.68 L523.66,17.56 L525.07,17.43 L526.49,17.31" fill="none" stroke="#1a1aff" stroke-width="2.3" stroke-linejoin="round" stroke-linecap="round" />
<path d="M330.51,176.64 L331.93,176.52 L333.34,176.39 L334.75,176.26 L336.16,176.14 L337.58,176.01 L338.99,175.88 L340.40,175.76 L341.82,175.63 L343.23,175.50 L344.64,175.38 L346.05,175.25 L347.47,175.12 L348.88,175.00 L350.29,174.87 L351.71,174.74 L353.12,174.62 L354.53,174.49 L355.95,174.36 L357.36,174.24 L358.77,174.11 L360.18,173.98 L361.60,173.86 L363.01,173.73 L364.42,173.60 L365.84,173.48 L367.25,173.35 L368.66,173.22 L370.07,173.10 L371.49,172.97 L372.90,172.77 L374.31,172.54 L375.73,172.31 L377.14,172.08 L378.55,171.85 L379.96,171.62 L381.38,171.39 L382.79,171.16 L384.20,170.93 L385.62,170.70 L387.03,170.47 L388.44,170.24 L389.86,169.88 L391.27,169.53 L392.68,169.17 L394.09,168.82 L395.51,168.47 L396.92,168.09 L398.33,167.55 L399.75,167.02 L401.16,166.49 L402.57,165.95 L403.98,165.42 L405.40,164.88 L406.81,164.35 L408.22,163.47 L409.64,162.48 L411.05,161.49 L412.46,160.51 L413.88,159.52 L413.88,159.52 L414.12,159.23 L414.37,158.85 L414.61,158.48 L414.86,158.11 L415.10,157.74 L415.35,157.36 L415.60,156.99 L415.84,156.62 L416.09,156.25 L416.33,155.88 L416.58,155.50 L416.82,155.13 L417.07,154.76 L417.32,154.39 L417.56,154.01 L417.81,153.64 L418.05,153.27 L418.30,152.90 L418.55,152.53 L418.79,152.15 L419.04,151.78 L419.28,150.95 L419.53,150.11 L419.77,149.26 L420.02,148.42 L420.27,147.58 L420.51,146.74 L420.76,145.89 L421.00,145.05 L421.25,144.21 L421.49,143.36 L421.74,142.52 L421.99,141.68 L422.23,140.84 L422.48,139.99 L422.72,137.60 L422.97,134.54 L423.22,131.48 L423.46,128.41 L423.71,125.35 L423.95,122.28 L424.20,119.22 L424.44,116.16 L424.69,113.09 L424.94,110.03 L425.18,106.96 L425.43,103.90 L425.67,100.84 L425.92,97.77 L426.16,94.71 L426.41,91.64 L426.66,88.58 L426.90,85.52 L427.15,82.45 L427.39,79.39 L427.64,76.32 L427.89,73.26 L428.13,70.20 L428.38,67.13 L428.62,64.07 L428.87,61.00 L429.11,57.94 L429.36,54.88 L429.61,53.88 L429.85,53.04 L430.10,52.19 L430.34,51.35 L430.59,50.51 L430.84,49.66 L431.08,48.82 L431.33,47.98 L431.57,47.14 L431.82,46.29 L432.06,45.45 L432.31,44.61 L432.56,43.77 L432.80,42.92 L433.05,42.39 L433.29,42.01 L433.54,41.64 L433.78,41.27 L434.03,40.90 L434.28,40.52 L434.52,40.15 L434.77,39.78 L435.01,39.41 L435.26,39.04 L435.51,38.66 L435.75,38.29 L436.00,37.92 L436.24,37.55 L436.49,37.17 L436.73,36.80 L436.98,36.43 L437.23,36.06 L437.47,35.69 L437.72,35.31 L437.96,34.95 L438.21,34.77 L438.45,34.60 L438.70,34.43 L438.95,34.26 L439.19,34.09 L439.44,33.91 L439.68,33.74 L439.93,33.57 L440.18,33.40 L440.42,33.23 L440.67,33.06 L440.91,32.88 L441.16,32.71 L441.40,32.54 L441.65,32.37 L441.90,32.20 L442.14,32.02 L442.39,31.85 L442.63,31.68 L442.88,31.51 L443.12,31.34 L443.12,31.34 L444.54,30.35 L445.95,29.74 L447.36,29.20 L448.78,28.67 L450.19,28.13 L451.60,27.60 L453.02,27.07 L454.43,26.53 L455.84,26.08 L457.25,25.72 L458.67,25.37 L460.08,25.02 L461.49,24.66 L462.91,24.31 L464.32,24.03 L465.73,23.80 L467.14,23.57 L468.56,23.34 L469.97,23.11 L471.38,22.88 L472.80,22.65 L474.21,22.42 L475.62,22.19 L477.04,21.96 L478.45,21.73 L479.86,21.50 L481.27,21.36 L482.69,21.23 L484.10,21.10 L485.51,20.98 L486.93,20.85 L488.34,20.72 L489.75,20.60 L491.16,20.47 L492.58,20.34 L493.99,20.22 L495.40,20.09 L496.82,19.96 L498.23,19.84 L499.64,19.71 L501.05,19.58 L502.47,19.46 L503.88,19.33 L505.29,19.20 L506.71,19.08 L508.12,18.95 L509.53,18.82 L510.95,18.70 L512.36,18.57 L513.77,18.44 L515.18,18.32 L516.60,18.19 L518.01,18.06 L519.42,17.94 L520.84,17.81 L522.25,17.68 L523.66,17.56 L525.07,17.43 L526.49,17.31" fill="none" stroke="#ffffff" stroke-width="0.7" stroke-linejoin="round" stroke-linecap="round" stroke-dasharray="0.8 2.2" opacity="0.7"/>
<path d="M330.51,177.09 L331.93,176.97 L333.34,176.84 L334.75,176.72 L336.16,176.59 L337.58,176.46 L338.99,176.34 L340.40,176.21 L341.82,176.08 L343.23,175.96 L344.64,175.83 L346.05,175.70 L347.47,175.58 L348.88,175.45 L350.29,175.32 L351.71,175.20 L353.12,175.07 L354.53,174.94 L355.95,174.82 L357.36,174.69 L358.77,174.56 L360.18,174.44 L361.60,174.31 L363.01,174.18 L364.42,174.06 L365.84,173.93 L367.25,173.80 L368.66,173.68 L370.07,173.55 L371.49,173.42 L372.90,173.30 L374.31,173.17 L375.73,173.04 L377.14,172.90 L378.55,172.67 L379.96,172.44 L381.38,172.21 L382.79,171.98 L384.20,171.75 L385.62,171.52 L387.03,171.29 L388.44,171.06 L389.86,170.83 L391.27,170.60 L392.68,170.37 L394.09,170.09 L395.51,169.74 L396.92,169.38 L398.33,169.03 L399.75,168.68 L401.16,168.32 L402.57,167.87 L403.98,167.33 L405.40,166.80 L406.81,166.27 L408.22,165.73 L409.64,165.20 L411.05,164.66 L412.46,164.05 L413.88,163.06 L413.88,163.06 L414.12,162.89 L414.37,162.72 L414.61,162.55 L414.86,162.38 L415.10,162.20 L415.35,162.03 L415.60,161.86 L415.84,161.69 L416.09,161.52 L416.33,161.34 L416.58,161.17 L416.82,161.00 L417.07,160.83 L417.32,160.66 L417.56,160.49 L417.81,160.31 L418.05,160.14 L418.30,159.97 L418.55,159.80 L418.79,159.63 L419.04,159.45 L419.28,159.09 L419.53,158.71 L419.77,158.34 L420.02,157.97 L420.27,157.60 L420.51,157.23 L420.76,156.85 L421.00,156.48 L421.25,156.11 L421.49,155.74 L421.74,155.36 L421.99,154.99 L422.23,154.62 L422.48,154.25 L422.72,153.88 L422.97,153.50 L423.22,153.13 L423.46,152.76 L423.71,152.39 L423.95,152.01 L424.20,151.48 L424.44,150.63 L424.69,149.79 L424.94,148.95 L425.18,148.11 L425.43,147.26 L425.67,146.42 L425.92,145.58 L426.16,144.74 L426.41,143.89 L426.66,143.05 L426.90,142.21 L427.15,141.36 L427.39,140.52 L427.64,139.52 L427.89,136.46 L428.13,133.40 L428.38,130.33 L428.62,127.27 L428.87,124.20 L429.11,121.14 L429.36,118.08 L429.61,115.01 L429.85,111.95 L430.10,108.88 L430.34,105.82 L430.59,102.76 L430.84,99.69 L431.08,96.63 L431.33,93.56 L431.57,90.50 L431.82,87.44 L432.06,84.37 L432.31,81.31 L432.56,78.24 L432.80,75.18 L433.05,72.12 L433.29,69.05 L433.54,65.99 L433.78,62.92 L434.03,59.86 L434.28,56.80 L434.52,54.41 L434.77,53.56 L435.01,52.72 L435.26,51.88 L435.51,51.04 L435.75,50.19 L436.00,49.35 L436.24,48.51 L436.49,47.66 L436.73,46.82 L436.98,45.98 L437.23,45.14 L437.47,44.29 L437.72,43.45 L437.96,42.62 L438.21,42.25 L438.45,41.87 L438.70,41.50 L438.95,41.13 L439.19,40.76 L439.44,40.39 L439.68,40.01 L439.93,39.64 L440.18,39.27 L440.42,38.90 L440.67,38.52 L440.91,38.15 L441.16,37.78 L441.40,37.41 L441.65,37.04 L441.90,36.66 L442.14,36.29 L442.39,35.92 L442.63,35.55 L442.88,35.17 L443.12,34.88 L443.12,34.88 L444.54,33.89 L445.95,32.91 L447.36,31.92 L448.78,30.93 L450.19,30.05 L451.60,29.52 L453.02,28.98 L454.43,28.45 L455.84,27.91 L457.25,27.38 L458.67,26.85 L460.08,26.31 L461.49,25.93 L462.91,25.58 L464.32,25.23 L465.73,24.87 L467.14,24.52 L468.56,24.16 L469.97,23.93 L471.38,23.70 L472.80,23.47 L474.21,23.24 L475.62,23.01 L477.04,22.78 L478.45,22.55 L479.86,22.32 L481.27,22.09 L482.69,21.86 L484.10,21.63 L485.51,21.43 L486.93,21.30 L488.34,21.18 L489.75,21.05 L491.16,20.92 L492.58,20.80 L493.99,20.67 L495.40,20.54 L496.82,20.42 L498.23,20.29 L499.64,20.16 L501.05,20.04 L502.47,19.91 L503.88,19.78 L505.29,19.66 L506.71,19.53 L508.12,19.40 L509.53,19.28 L510.95,19.15 L512.36,19.02 L513.77,18.90 L515.18,18.77 L516.60,18.64 L518.01,18.52 L519.42,18.39 L520.84,18.26 L522.25,18.14 L523.66,18.01 L525.07,17.88 L526.49,17.76" fill="none" stroke="#1a1aff" stroke-width="2.3" stroke-linejoin="round" stroke-linecap="round" />
<path d="M330.51,177.09 L331.93,176.97 L333.34,176.84 L334.75,176.72 L336.16,176.59 L337.58,176.46 L338.99,176.34 L340.40,176.21 L341.82,176.08 L343.23,175.96 L344.64,175.83 L346.05,175.70 L347.47,175.58 L348.88,175.45 L350.29,175.32 L351.71,175.20 L353.12,175.07 L354.53,174.94 L355.95,174.82 L357.36,174.69 L358.77,174.56 L360.18,174.44 L361.60,174.31 L363.01,174.18 L364.42,174.06 L365.84,173.93 L367.25,173.80 L368.66,173.68 L370.07,173.55 L371.49,173.42 L372.90,173.30 L374.31,173.17 L375.73,173.04 L377.14,172.90 L378.55,172.67 L379.96,172.44 L381.38,172.21 L382.79,171.98 L384.20,171.75 L385.62,171.52 L387.03,171.29 L388.44,171.06 L389.86,170.83 L391.27,170.60 L392.68,170.37 L394.09,170.09 L395.51,169.74 L396.92,169.38 L398.33,169.03 L399.75,168.68 L401.16,168.32 L402.57,167.87 L403.98,167.33 L405.40,166.80 L406.81,166.27 L408.22,165.73 L409.64,165.20 L411.05,164.66 L412.46,164.05 L413.88,163.06 L413.88,163.06 L414.12,162.89 L414.37,162.72 L414.61,162.55 L414.86,162.38 L415.10,162.20 L415.35,162.03 L415.60,161.86 L415.84,161.69 L416.09,161.52 L416.33,161.34 L416.58,161.17 L416.82,161.00 L417.07,160.83 L417.32,160.66 L417.56,160.49 L417.81,160.31 L418.05,160.14 L418.30,159.97 L418.55,159.80 L418.79,159.63 L419.04,159.45 L419.28,159.09 L419.53,158.71 L419.77,158.34 L420.02,157.97 L420.27,157.60 L420.51,157.23 L420.76,156.85 L421.00,156.48 L421.25,156.11 L421.49,155.74 L421.74,155.36 L421.99,154.99 L422.23,154.62 L422.48,154.25 L422.72,153.88 L422.97,153.50 L423.22,153.13 L423.46,152.76 L423.71,152.39 L423.95,152.01 L424.20,151.48 L424.44,150.63 L424.69,149.79 L424.94,148.95 L425.18,148.11 L425.43,147.26 L425.67,146.42 L425.92,145.58 L426.16,144.74 L426.41,143.89 L426.66,143.05 L426.90,142.21 L427.15,141.36 L427.39,140.52 L427.64,139.52 L427.89,136.46 L428.13,133.40 L428.38,130.33 L428.62,127.27 L428.87,124.20 L429.11,121.14 L429.36,118.08 L429.61,115.01 L429.85,111.95 L430.10,108.88 L430.34,105.82 L430.59,102.76 L430.84,99.69 L431.08,96.63 L431.33,93.56 L431.57,90.50 L431.82,87.44 L432.06,84.37 L432.31,81.31 L432.56,78.24 L432.80,75.18 L433.05,72.12 L433.29,69.05 L433.54,65.99 L433.78,62.92 L434.03,59.86 L434.28,56.80 L434.52,54.41 L434.77,53.56 L435.01,52.72 L435.26,51.88 L435.51,51.04 L435.75,50.19 L436.00,49.35 L436.24,48.51 L436.49,47.66 L436.73,46.82 L436.98,45.98 L437.23,45.14 L437.47,44.29 L437.72,43.45 L437.96,42.62 L438.21,42.25 L438.45,41.87 L438.70,41.50 L438.95,41.13 L439.19,40.76 L439.44,40.39 L439.68,40.01 L439.93,39.64 L440.18,39.27 L440.42,38.90 L440.67,38.52 L440.91,38.15 L441.16,37.78 L441.40,37.41 L441.65,37.04 L441.90,36.66 L442.14,36.29 L442.39,35.92 L442.63,35.55 L442.88,35.17 L443.12,34.88 L443.12,34.88 L444.54,33.89 L445.95,32.91 L447.36,31.92 L448.78,30.93 L450.19,30.05 L451.60,29.52 L453.02,28.98 L454.43,28.45 L455.84,27.91 L457.25,27.38 L458.67,26.85 L460.08,26.31 L461.49,25.93 L462.91,25.58 L464.32,25.23 L465.73,24.87 L467.14,24.52 L468.56,24.16 L469.97,23.93 L471.38,23.70 L472.80,23.47 L474.21,23.24 L475.62,23.01 L477.04,22.78 L478.45,22.55 L479.86,22.32 L481.27,22.09 L482.69,21.86 L484.10,21.63 L485.51,21.43 L486.93,21.30 L488.34,21.18 L489.75,21.05 L491.16,20.92 L492.58,20.80 L493.99,20.67 L495.40,20.54 L496.82,20.42 L498.23,20.29 L499.64,20.16 L501.05,20.04 L502.47,19.91 L503.88,19.78 L505.29,19.66 L506.71,19.53 L508.12,19.40 L509.53,19.28 L510.95,19.15 L512.36,19.02 L513.77,18.90 L515.18,18.77 L516.60,18.64 L518.01,18.52 L519.42,18.39 L520.84,18.26 L522.25,18.14 L523.66,18.01 L525.07,17.88 L526.49,17.76" fill="none" stroke="#ffffff" stroke-width="0.7" stroke-linejoin="round" stroke-linecap="round" stroke-dasharray="0.8 2.2" opacity="0.7"/>
<path d="M330.51,172.01 L331.93,171.87 L333.34,171.74 L334.75,171.61 L336.16,171.47 L337.58,171.34 L338.99,171.20 L340.40,171.07 L341.82,170.93 L343.23,170.80 L344.64,170.67 L346.05,170.53 L347.47,170.40 L348.88,170.26 L350.29,170.13 L351.71,169.99 L353.12,169.86 L354.53,169.73 L355.95,169.59 L357.36,169.46 L358.77,169.32 L360.18,169.19 L361.60,169.05 L363.01,168.92 L364.42,168.78 L365.84,168.65 L367.25,168.52 L368.66,168.38 L370.07,168.25 L371.49,168.11 L372.90,167.98 L374.31,167.67 L375.73,167.34 L377.14,167.00 L378.55,166.67 L379.96,166.33 L381.38,165.99 L382.79,165.66 L384.20,165.32 L385.62,164.99 L387.03,164.65 L388.44,164.31 L389.86,163.95 L391.27,163.40 L392.68,162.85 L394.09,162.29 L395.51,161.74 L396.92,161.19 L398.33,160.63 L399.75,160.00 L401.16,159.37 L402.57,158.74 L403.98,158.11 L405.40,157.48 L406.81,156.75 L408.22,155.57 L409.64,154.38 L411.05,153.19 L412.46,152.01 L413.88,150.63 L413.88,150.63 L414.12,150.30 L414.37,149.97 L414.61,149.64 L414.86,149.32 L415.10,148.99 L415.35,148.66 L415.60,148.33 L415.84,148.00 L416.09,147.68 L416.33,147.35 L416.58,147.02 L416.82,146.69 L417.07,146.36 L417.32,146.03 L417.56,145.71 L417.81,145.38 L418.05,145.05 L418.30,144.72 L418.55,144.27 L418.79,143.61 L419.04,142.95 L419.28,142.29 L419.53,141.63 L419.77,140.97 L420.02,140.31 L420.27,139.65 L420.51,138.99 L420.76,138.33 L421.00,137.67 L421.25,137.01 L421.49,136.35 L421.74,135.69 L421.99,135.03 L422.23,134.37 L422.48,133.71 L422.72,132.03 L422.97,129.90 L423.22,127.77 L423.46,125.64 L423.71,123.51 L423.95,121.38 L424.20,119.26 L424.44,117.13 L424.69,115.00 L424.94,112.87 L425.18,110.74 L425.43,108.61 L425.67,106.48 L425.92,104.35 L426.16,102.22 L426.41,100.10 L426.66,97.97 L426.90,95.84 L427.15,93.71 L427.39,91.58 L427.64,89.45 L427.89,87.32 L428.13,85.19 L428.38,83.06 L428.62,80.93 L428.87,78.81 L429.11,76.68 L429.36,74.55 L429.61,72.42 L429.85,70.29 L430.10,68.16 L430.34,66.03 L430.59,63.90 L430.84,61.77 L431.08,60.50 L431.33,59.84 L431.57,59.18 L431.82,58.52 L432.06,57.86 L432.31,57.20 L432.56,56.54 L432.80,55.88 L433.05,55.22 L433.29,54.56 L433.54,53.90 L433.78,53.24 L434.03,52.58 L434.28,51.92 L434.52,51.26 L434.77,50.60 L435.01,49.94 L435.26,49.59 L435.51,49.26 L435.75,48.93 L436.00,48.60 L436.24,48.27 L436.49,47.95 L436.73,47.62 L436.98,47.29 L437.23,46.96 L437.47,46.63 L437.72,46.30 L437.96,45.98 L438.21,45.65 L438.45,45.32 L438.70,44.99 L438.95,44.66 L439.19,44.34 L439.44,44.01 L439.68,43.68 L439.93,43.35 L440.18,43.11 L440.42,42.90 L440.67,42.69 L440.91,42.49 L441.16,42.28 L441.40,42.08 L441.65,41.87 L441.90,41.66 L442.14,41.46 L442.39,41.25 L442.63,41.04 L442.88,40.84 L443.12,40.63 L443.12,40.63 L444.54,39.45 L445.95,38.26 L447.36,37.25 L448.78,36.62 L450.19,35.99 L451.60,35.36 L453.02,34.73 L454.43,34.10 L455.84,33.50 L457.25,32.95 L458.67,32.39 L460.08,31.84 L461.49,31.29 L462.91,30.73 L464.32,30.26 L465.73,29.92 L467.14,29.59 L468.56,29.25 L469.97,28.92 L471.38,28.58 L472.80,28.24 L474.21,27.91 L475.62,27.57 L477.04,27.24 L478.45,26.90 L479.86,26.56 L481.27,26.36 L482.69,26.22 L484.10,26.09 L485.51,25.95 L486.93,25.82 L488.34,25.68 L489.75,25.55 L491.16,25.42 L492.58,25.28 L493.99,25.15 L495.40,25.01 L496.82,24.88 L498.23,24.74 L499.64,24.61 L501.05,24.48 L502.47,24.34 L503.88,24.21 L505.29,24.07 L506.71,23.94 L508.12,23.80 L509.53,23.67 L510.95,23.54 L512.36,23.40 L513.77,23.27 L515.18,23.13 L516.60,23.00 L518.01,22.86 L519.42,22.73 L520.84,22.59 L522.25,22.46 L523.66,22.33 L525.07,22.19 L526.49,22.08" fill="none" stroke="#ff22ff" stroke-width="2.3" stroke-linejoin="round" stroke-linecap="round" />
<path d="M330.51,172.01 L331.93,171.87 L333.34,171.74 L334.75,171.61 L336.16,171.47 L337.58,171.34 L338.99,171.20 L340.40,171.07 L341.82,170.93 L343.23,170.80 L344.64,170.67 L346.05,170.53 L347.47,170.40 L348.88,170.26 L350.29,170.13 L351.71,169.99 L353.12,169.86 L354.53,169.73 L355.95,169.59 L357.36,169.46 L358.77,169.32 L360.18,169.19 L361.60,169.05 L363.01,168.92 L364.42,168.78 L365.84,168.65 L367.25,168.52 L368.66,168.38 L370.07,168.25 L371.49,168.11 L372.90,167.98 L374.31,167.67 L375.73,167.34 L377.14,167.00 L378.55,166.67 L379.96,166.33 L381.38,165.99 L382.79,165.66 L384.20,165.32 L385.62,164.99 L387.03,164.65 L388.44,164.31 L389.86,163.95 L391.27,163.40 L392.68,162.85 L394.09,162.29 L395.51,161.74 L396.92,161.19 L398.33,160.63 L399.75,160.00 L401.16,159.37 L402.57,158.74 L403.98,158.11 L405.40,157.48 L406.81,156.75 L408.22,155.57 L409.64,154.38 L411.05,153.19 L412.46,152.01 L413.88,150.63 L413.88,150.63 L414.12,150.30 L414.37,149.97 L414.61,149.64 L414.86,149.32 L415.10,148.99 L415.35,148.66 L415.60,148.33 L415.84,148.00 L416.09,147.68 L416.33,147.35 L416.58,147.02 L416.82,146.69 L417.07,146.36 L417.32,146.03 L417.56,145.71 L417.81,145.38 L418.05,145.05 L418.30,144.72 L418.55,144.27 L418.79,143.61 L419.04,142.95 L419.28,142.29 L419.53,141.63 L419.77,140.97 L420.02,140.31 L420.27,139.65 L420.51,138.99 L420.76,138.33 L421.00,137.67 L421.25,137.01 L421.49,136.35 L421.74,135.69 L421.99,135.03 L422.23,134.37 L422.48,133.71 L422.72,132.03 L422.97,129.90 L423.22,127.77 L423.46,125.64 L423.71,123.51 L423.95,121.38 L424.20,119.26 L424.44,117.13 L424.69,115.00 L424.94,112.87 L425.18,110.74 L425.43,108.61 L425.67,106.48 L425.92,104.35 L426.16,102.22 L426.41,100.10 L426.66,97.97 L426.90,95.84 L427.15,93.71 L427.39,91.58 L427.64,89.45 L427.89,87.32 L428.13,85.19 L428.38,83.06 L428.62,80.93 L428.87,78.81 L429.11,76.68 L429.36,74.55 L429.61,72.42 L429.85,70.29 L430.10,68.16 L430.34,66.03 L430.59,63.90 L430.84,61.77 L431.08,60.50 L431.33,59.84 L431.57,59.18 L431.82,58.52 L432.06,57.86 L432.31,57.20 L432.56,56.54 L432.80,55.88 L433.05,55.22 L433.29,54.56 L433.54,53.90 L433.78,53.24 L434.03,52.58 L434.28,51.92 L434.52,51.26 L434.77,50.60 L435.01,49.94 L435.26,49.59 L435.51,49.26 L435.75,48.93 L436.00,48.60 L436.24,48.27 L436.49,47.95 L436.73,47.62 L436.98,47.29 L437.23,46.96 L437.47,46.63 L437.72,46.30 L437.96,45.98 L438.21,45.65 L438.45,45.32 L438.70,44.99 L438.95,44.66 L439.19,44.34 L439.44,44.01 L439.68,43.68 L439.93,43.35 L440.18,43.11 L440.42,42.90 L440.67,42.69 L440.91,42.49 L441.16,42.28 L441.40,42.08 L441.65,41.87 L441.90,41.66 L442.14,41.46 L442.39,41.25 L442.63,41.04 L442.88,40.84 L443.12,40.63 L443.12,40.63 L444.54,39.45 L445.95,38.26 L447.36,37.25 L448.78,36.62 L450.19,35.99 L451.60,35.36 L453.02,34.73 L454.43,34.10 L455.84,33.50 L457.25,32.95 L458.67,32.39 L460.08,31.84 L461.49,31.29 L462.91,30.73 L464.32,30.26 L465.73,29.92 L467.14,29.59 L468.56,29.25 L469.97,28.92 L471.38,28.58 L472.80,28.24 L474.21,27.91 L475.62,27.57 L477.04,27.24 L478.45,26.90 L479.86,26.56 L481.27,26.36 L482.69,26.22 L484.10,26.09 L485.51,25.95 L486.93,25.82 L488.34,25.68 L489.75,25.55 L491.16,25.42 L492.58,25.28 L493.99,25.15 L495.40,25.01 L496.82,24.88 L498.23,24.74 L499.64,24.61 L501.05,24.48 L502.47,24.34 L503.88,24.21 L505.29,24.07 L506.71,23.94 L508.12,23.80 L509.53,23.67 L510.95,23.54 L512.36,23.40 L513.77,23.27 L515.18,23.13 L516.60,23.00 L518.01,22.86 L519.42,22.73 L520.84,22.59 L522.25,22.46 L523.66,22.33 L525.07,22.19 L526.49,22.08" fill="none" stroke="#ffffff" stroke-width="0.7" stroke-linejoin="round" stroke-linecap="round" stroke-dasharray="0.8 2.2" opacity="0.7"/>
<path d="M330.51,172.31 L331.93,172.21 L333.34,172.07 L334.75,171.94 L336.16,171.81 L337.58,171.67 L338.99,171.54 L340.40,171.40 L341.82,171.27 L343.23,171.13 L344.64,171.00 L346.05,170.86 L347.47,170.73 L348.88,170.60 L350.29,170.46 L351.71,170.33 L353.12,170.19 L354.53,170.06 L355.95,169.92 L357.36,169.79 L358.77,169.66 L360.18,169.52 L361.60,169.39 L363.01,169.25 L364.42,169.12 L365.84,168.98 L367.25,168.85 L368.66,168.72 L370.07,168.58 L371.49,168.45 L372.90,168.31 L374.31,168.18 L375.73,168.04 L377.14,167.84 L378.55,167.50 L379.96,167.16 L381.38,166.83 L382.79,166.49 L384.20,166.16 L385.62,165.82 L387.03,165.48 L388.44,165.15 L389.86,164.81 L391.27,164.48 L392.68,164.14 L394.09,163.67 L395.51,163.11 L396.92,162.56 L398.33,162.01 L399.75,161.45 L401.16,160.90 L402.57,160.30 L403.98,159.67 L405.40,159.04 L406.81,158.41 L408.22,157.78 L409.64,157.15 L411.05,156.14 L412.46,154.95 L413.88,153.77 L413.88,153.77 L414.12,153.56 L414.37,153.36 L414.61,153.15 L414.86,152.94 L415.10,152.74 L415.35,152.53 L415.60,152.32 L415.84,152.12 L416.09,151.91 L416.33,151.71 L416.58,151.50 L416.82,151.29 L417.07,151.05 L417.32,150.72 L417.56,150.39 L417.81,150.06 L418.05,149.74 L418.30,149.41 L418.55,149.08 L418.79,148.75 L419.04,148.42 L419.28,148.10 L419.53,147.77 L419.77,147.44 L420.02,147.11 L420.27,146.78 L420.51,146.45 L420.76,146.13 L421.00,145.80 L421.25,145.47 L421.49,145.14 L421.74,144.81 L421.99,144.46 L422.23,143.80 L422.48,143.14 L422.72,142.48 L422.97,141.82 L423.22,141.16 L423.46,140.50 L423.71,139.84 L423.95,139.18 L424.20,138.52 L424.44,137.86 L424.69,137.20 L424.94,136.54 L425.18,135.88 L425.43,135.22 L425.67,134.56 L425.92,133.90 L426.16,132.63 L426.41,130.50 L426.66,128.37 L426.90,126.24 L427.15,124.11 L427.39,121.98 L427.64,119.85 L427.89,117.72 L428.13,115.59 L428.38,113.47 L428.62,111.34 L428.87,109.21 L429.11,107.08 L429.36,104.95 L429.61,102.82 L429.85,100.69 L430.10,98.56 L430.34,96.43 L430.59,94.30 L430.84,92.18 L431.08,90.05 L431.33,87.92 L431.57,85.79 L431.82,83.66 L432.06,81.53 L432.31,79.40 L432.56,77.27 L432.80,75.14 L433.05,73.02 L433.29,70.89 L433.54,68.76 L433.78,66.63 L434.03,64.50 L434.28,62.37 L434.52,60.69 L434.77,60.03 L435.01,59.37 L435.26,58.71 L435.51,58.05 L435.75,57.39 L436.00,56.73 L436.24,56.07 L436.49,55.41 L436.73,54.75 L436.98,54.09 L437.23,53.43 L437.47,52.77 L437.72,52.11 L437.96,51.45 L438.21,50.79 L438.45,50.13 L438.70,49.68 L438.95,49.35 L439.19,49.02 L439.44,48.69 L439.68,48.37 L439.93,48.04 L440.18,47.71 L440.42,47.38 L440.67,47.05 L440.91,46.72 L441.16,46.40 L441.40,46.07 L441.65,45.74 L441.90,45.41 L442.14,45.08 L442.39,44.76 L442.63,44.43 L442.88,44.10 L443.12,43.77 L443.12,43.77 L444.54,42.39 L445.95,41.21 L447.36,40.02 L448.78,38.83 L450.19,37.65 L451.60,36.92 L453.02,36.29 L454.43,35.66 L455.84,35.03 L457.25,34.40 L458.67,33.77 L460.08,33.21 L461.49,32.66 L462.91,32.11 L464.32,31.55 L465.73,31.00 L467.14,30.45 L468.56,30.09 L469.97,29.75 L471.38,29.41 L472.80,29.08 L474.21,28.74 L475.62,28.41 L477.04,28.07 L478.45,27.73 L479.86,27.40 L481.27,27.06 L482.69,26.73 L484.10,26.42 L485.51,26.29 L486.93,26.15 L488.34,26.02 L489.75,25.88 L491.16,25.75 L492.58,25.62 L493.99,25.48 L495.40,25.35 L496.82,25.21 L498.23,25.08 L499.64,24.94 L501.05,24.81 L502.47,24.67 L503.88,24.54 L505.29,24.41 L506.71,24.27 L508.12,24.14 L509.53,24.00 L510.95,23.87 L512.36,23.73 L513.77,23.60 L515.18,23.47 L516.60,23.33 L518.01,23.20 L519.42,23.06 L520.84,22.93 L522.25,22.79 L523.66,22.66 L525.07,22.53 L526.49,22.39" fill="none" stroke="#ff22ff" stroke-width="2.3" stroke-linejoin="round" stroke-linecap="round" />
<path d="M330.51,172.31 L331.93,172.21 L333.34,172.07 L334.75,171.94 L336.16,171.81 L337.58,171.67 L338.99,171.54 L340.40,171.40 L341.82,171.27 L343.23,171.13 L344.64,171.00 L346.05,170.86 L347.47,170.73 L348.88,170.60 L350.29,170.46 L351.71,170.33 L353.12,170.19 L354.53,170.06 L355.95,169.92 L357.36,169.79 L358.77,169.66 L360.18,169.52 L361.60,169.39 L363.01,169.25 L364.42,169.12 L365.84,168.98 L367.25,168.85 L368.66,168.72 L370.07,168.58 L371.49,168.45 L372.90,168.31 L374.31,168.18 L375.73,168.04 L377.14,167.84 L378.55,167.50 L379.96,167.16 L381.38,166.83 L382.79,166.49 L384.20,166.16 L385.62,165.82 L387.03,165.48 L388.44,165.15 L389.86,164.81 L391.27,164.48 L392.68,164.14 L394.09,163.67 L395.51,163.11 L396.92,162.56 L398.33,162.01 L399.75,161.45 L401.16,160.90 L402.57,160.30 L403.98,159.67 L405.40,159.04 L406.81,158.41 L408.22,157.78 L409.64,157.15 L411.05,156.14 L412.46,154.95 L413.88,153.77 L413.88,153.77 L414.12,153.56 L414.37,153.36 L414.61,153.15 L414.86,152.94 L415.10,152.74 L415.35,152.53 L415.60,152.32 L415.84,152.12 L416.09,151.91 L416.33,151.71 L416.58,151.50 L416.82,151.29 L417.07,151.05 L417.32,150.72 L417.56,150.39 L417.81,150.06 L418.05,149.74 L418.30,149.41 L418.55,149.08 L418.79,148.75 L419.04,148.42 L419.28,148.10 L419.53,147.77 L419.77,147.44 L420.02,147.11 L420.27,146.78 L420.51,146.45 L420.76,146.13 L421.00,145.80 L421.25,145.47 L421.49,145.14 L421.74,144.81 L421.99,144.46 L422.23,143.80 L422.48,143.14 L422.72,142.48 L422.97,141.82 L423.22,141.16 L423.46,140.50 L423.71,139.84 L423.95,139.18 L424.20,138.52 L424.44,137.86 L424.69,137.20 L424.94,136.54 L425.18,135.88 L425.43,135.22 L425.67,134.56 L425.92,133.90 L426.16,132.63 L426.41,130.50 L426.66,128.37 L426.90,126.24 L427.15,124.11 L427.39,121.98 L427.64,119.85 L427.89,117.72 L428.13,115.59 L428.38,113.47 L428.62,111.34 L428.87,109.21 L429.11,107.08 L429.36,104.95 L429.61,102.82 L429.85,100.69 L430.10,98.56 L430.34,96.43 L430.59,94.30 L430.84,92.18 L431.08,90.05 L431.33,87.92 L431.57,85.79 L431.82,83.66 L432.06,81.53 L432.31,79.40 L432.56,77.27 L432.80,75.14 L433.05,73.02 L433.29,70.89 L433.54,68.76 L433.78,66.63 L434.03,64.50 L434.28,62.37 L434.52,60.69 L434.77,60.03 L435.01,59.37 L435.26,58.71 L435.51,58.05 L435.75,57.39 L436.00,56.73 L436.24,56.07 L436.49,55.41 L436.73,54.75 L436.98,54.09 L437.23,53.43 L437.47,52.77 L437.72,52.11 L437.96,51.45 L438.21,50.79 L438.45,50.13 L438.70,49.68 L438.95,49.35 L439.19,49.02 L439.44,48.69 L439.68,48.37 L439.93,48.04 L440.18,47.71 L440.42,47.38 L440.67,47.05 L440.91,46.72 L441.16,46.40 L441.40,46.07 L441.65,45.74 L441.90,45.41 L442.14,45.08 L442.39,44.76 L442.63,44.43 L442.88,44.10 L443.12,43.77 L443.12,43.77 L444.54,42.39 L445.95,41.21 L447.36,40.02 L448.78,38.83 L450.19,37.65 L451.60,36.92 L453.02,36.29 L454.43,35.66 L455.84,35.03 L457.25,34.40 L458.67,33.77 L460.08,33.21 L461.49,32.66 L462.91,32.11 L464.32,31.55 L465.73,31.00 L467.14,30.45 L468.56,30.09 L469.97,29.75 L471.38,29.41 L472.80,29.08 L474.21,28.74 L475.62,28.41 L477.04,28.07 L478.45,27.73 L479.86,27.40 L481.27,27.06 L482.69,26.73 L484.10,26.42 L485.51,26.29 L486.93,26.15 L488.34,26.02 L489.75,25.88 L491.16,25.75 L492.58,25.62 L493.99,25.48 L495.40,25.35 L496.82,25.21 L498.23,25.08 L499.64,24.94 L501.05,24.81 L502.47,24.67 L503.88,24.54 L505.29,24.41 L506.71,24.27 L508.12,24.14 L509.53,24.00 L510.95,23.87 L512.36,23.73 L513.77,23.60 L515.18,23.47 L516.60,23.33 L518.01,23.20 L519.42,23.06 L520.84,22.93 L522.25,22.79 L523.66,22.66 L525.07,22.53 L526.49,22.39" fill="none" stroke="#ffffff" stroke-width="0.7" stroke-linejoin="round" stroke-linecap="round" stroke-dasharray="0.8 2.2" opacity="0.7"/>
<path d="M330.51,170.25 L331.93,170.02 L333.34,169.80 L334.75,169.57 L336.16,169.35 L337.58,169.13 L338.99,168.90 L340.40,168.68 L341.82,168.46 L343.23,168.23 L344.64,168.01 L346.05,167.78 L347.47,167.56 L348.88,167.34 L350.29,167.11 L351.71,166.89 L353.12,166.66 L354.53,166.44 L355.95,166.22 L357.36,165.99 L358.77,165.77 L360.18,165.54 L361.60,165.32 L363.01,165.10 L364.42,164.87 L365.84,164.65 L367.25,164.42 L368.66,164.20 L370.07,163.98 L371.49,163.75 L372.90,163.53 L374.31,163.30 L375.73,162.99 L377.14,162.56 L378.55,162.14 L379.96,161.71 L381.38,161.29 L382.79,160.87 L384.20,160.44 L385.62,160.02 L387.03,159.59 L388.44,159.17 L389.86,158.74 L391.27,158.32 L392.68,157.72 L394.09,157.07 L395.51,156.41 L396.92,155.75 L398.33,155.10 L399.75,154.44 L401.16,153.70 L402.57,152.93 L403.98,152.16 L405.40,151.39 L406.81,150.62 L408.22,149.85 L409.64,148.69 L411.05,147.42 L412.46,146.15 L413.88,144.88 L413.88,144.88 L414.12,144.65 L414.37,144.43 L414.61,144.21 L414.86,143.99 L415.10,143.77 L415.35,143.55 L415.60,143.22 L415.84,142.83 L416.09,142.44 L416.33,142.05 L416.58,141.66 L416.82,141.27 L417.07,140.88 L417.32,140.49 L417.56,140.10 L417.81,139.71 L418.05,139.32 L418.30,138.93 L418.55,138.54 L418.79,138.15 L419.04,137.76 L419.28,137.37 L419.53,136.98 L419.77,136.59 L420.02,136.20 L420.27,135.81 L420.51,135.24 L420.76,134.43 L421.00,133.62 L421.25,132.80 L421.49,131.99 L421.74,131.17 L421.99,130.36 L422.23,129.55 L422.48,128.73 L422.72,127.92 L422.97,127.11 L423.22,126.29 L423.46,125.48 L423.71,124.66 L423.95,123.85 L424.20,123.04 L424.44,122.22 L424.69,121.41 L424.94,119.91 L425.18,117.91 L425.43,115.90 L425.67,113.90 L425.92,111.89 L426.16,109.89 L426.41,107.88 L426.66,105.88 L426.90,103.87 L427.15,101.87 L427.39,99.86 L427.64,97.86 L427.89,95.85 L428.13,93.84 L428.38,91.84 L428.62,89.83 L428.87,87.83 L429.11,85.82 L429.36,83.82 L429.61,81.81 L429.85,79.81 L430.10,77.80 L430.34,75.80 L430.59,73.79 L430.84,72.71 L431.08,71.89 L431.33,71.08 L431.57,70.27 L431.82,69.45 L432.06,68.64 L432.31,67.83 L432.56,67.01 L432.80,66.20 L433.05,65.38 L433.29,64.57 L433.54,63.76 L433.78,62.94 L434.03,62.13 L434.28,61.32 L434.52,60.50 L434.77,59.69 L435.01,58.87 L435.26,58.45 L435.51,58.06 L435.75,57.67 L436.00,57.28 L436.24,56.89 L436.49,56.50 L436.73,56.11 L436.98,55.72 L437.23,55.33 L437.47,54.94 L437.72,54.55 L437.96,54.17 L438.21,53.78 L438.45,53.39 L438.70,53.00 L438.95,52.61 L439.19,52.22 L439.44,51.83 L439.68,51.44 L439.93,51.05 L440.18,50.77 L440.42,50.55 L440.67,50.33 L440.91,50.11 L441.16,49.89 L441.40,49.67 L441.65,49.45 L441.90,49.23 L442.14,49.01 L442.39,48.78 L442.63,48.56 L442.88,48.34 L443.12,48.12 L443.12,48.12 L444.54,46.85 L445.95,45.58 L447.36,44.46 L448.78,43.70 L450.19,42.93 L451.60,42.16 L453.02,41.39 L454.43,40.62 L455.84,39.89 L457.25,39.24 L458.67,38.58 L460.08,37.92 L461.49,37.26 L462.91,36.61 L464.32,36.04 L465.73,35.61 L467.14,35.19 L468.56,34.76 L469.97,34.34 L471.38,33.92 L472.80,33.49 L474.21,33.07 L475.62,32.64 L477.04,32.22 L478.45,31.79 L479.86,31.37 L481.27,31.07 L482.69,30.85 L484.10,30.62 L485.51,30.40 L486.93,30.18 L488.34,29.95 L489.75,29.73 L491.16,29.50 L492.58,29.28 L493.99,29.06 L495.40,28.83 L496.82,28.61 L498.23,28.38 L499.64,28.16 L501.05,27.94 L502.47,27.71 L503.88,27.49 L505.29,27.27 L506.71,27.04 L508.12,26.82 L509.53,26.59 L510.95,26.37 L512.36,26.15 L513.77,25.92 L515.18,25.70 L516.60,25.47 L518.01,25.25 L519.42,25.03 L520.84,24.80 L522.25,24.58 L523.66,24.35 L525.07,24.13 L526.49,23.95" fill="none" stroke="#6fd040" stroke-width="2.3" stroke-linejoin="round" stroke-linecap="round" />
<path d="M330.51,170.25 L331.93,170.02 L333.34,169.80 L334.75,169.57 L336.16,169.35 L337.58,169.13 L338.99,168.90 L340.40,168.68 L341.82,168.46 L343.23,168.23 L344.64,168.01 L346.05,167.78 L347.47,167.56 L348.88,167.34 L350.29,167.11 L351.71,166.89 L353.12,166.66 L354.53,166.44 L355.95,166.22 L357.36,165.99 L358.77,165.77 L360.18,165.54 L361.60,165.32 L363.01,165.10 L364.42,164.87 L365.84,164.65 L367.25,164.42 L368.66,164.20 L370.07,163.98 L371.49,163.75 L372.90,163.53 L374.31,163.30 L375.73,162.99 L377.14,162.56 L378.55,162.14 L379.96,161.71 L381.38,161.29 L382.79,160.87 L384.20,160.44 L385.62,160.02 L387.03,159.59 L388.44,159.17 L389.86,158.74 L391.27,158.32 L392.68,157.72 L394.09,157.07 L395.51,156.41 L396.92,155.75 L398.33,155.10 L399.75,154.44 L401.16,153.70 L402.57,152.93 L403.98,152.16 L405.40,151.39 L406.81,150.62 L408.22,149.85 L409.64,148.69 L411.05,147.42 L412.46,146.15 L413.88,144.88 L413.88,144.88 L414.12,144.65 L414.37,144.43 L414.61,144.21 L414.86,143.99 L415.10,143.77 L415.35,143.55 L415.60,143.22 L415.84,142.83 L416.09,142.44 L416.33,142.05 L416.58,141.66 L416.82,141.27 L417.07,140.88 L417.32,140.49 L417.56,140.10 L417.81,139.71 L418.05,139.32 L418.30,138.93 L418.55,138.54 L418.79,138.15 L419.04,137.76 L419.28,137.37 L419.53,136.98 L419.77,136.59 L420.02,136.20 L420.27,135.81 L420.51,135.24 L420.76,134.43 L421.00,133.62 L421.25,132.80 L421.49,131.99 L421.74,131.17 L421.99,130.36 L422.23,129.55 L422.48,128.73 L422.72,127.92 L422.97,127.11 L423.22,126.29 L423.46,125.48 L423.71,124.66 L423.95,123.85 L424.20,123.04 L424.44,122.22 L424.69,121.41 L424.94,119.91 L425.18,117.91 L425.43,115.90 L425.67,113.90 L425.92,111.89 L426.16,109.89 L426.41,107.88 L426.66,105.88 L426.90,103.87 L427.15,101.87 L427.39,99.86 L427.64,97.86 L427.89,95.85 L428.13,93.84 L428.38,91.84 L428.62,89.83 L428.87,87.83 L429.11,85.82 L429.36,83.82 L429.61,81.81 L429.85,79.81 L430.10,77.80 L430.34,75.80 L430.59,73.79 L430.84,72.71 L431.08,71.89 L431.33,71.08 L431.57,70.27 L431.82,69.45 L432.06,68.64 L432.31,67.83 L432.56,67.01 L432.80,66.20 L433.05,65.38 L433.29,64.57 L433.54,63.76 L433.78,62.94 L434.03,62.13 L434.28,61.32 L434.52,60.50 L434.77,59.69 L435.01,58.87 L435.26,58.45 L435.51,58.06 L435.75,57.67 L436.00,57.28 L436.24,56.89 L436.49,56.50 L436.73,56.11 L436.98,55.72 L437.23,55.33 L437.47,54.94 L437.72,54.55 L437.96,54.17 L438.21,53.78 L438.45,53.39 L438.70,53.00 L438.95,52.61 L439.19,52.22 L439.44,51.83 L439.68,51.44 L439.93,51.05 L440.18,50.77 L440.42,50.55 L440.67,50.33 L440.91,50.11 L441.16,49.89 L441.40,49.67 L441.65,49.45 L441.90,49.23 L442.14,49.01 L442.39,48.78 L442.63,48.56 L442.88,48.34 L443.12,48.12 L443.12,48.12 L444.54,46.85 L445.95,45.58 L447.36,44.46 L448.78,43.70 L450.19,42.93 L451.60,42.16 L453.02,41.39 L454.43,40.62 L455.84,39.89 L457.25,39.24 L458.67,38.58 L460.08,37.92 L461.49,37.26 L462.91,36.61 L464.32,36.04 L465.73,35.61 L467.14,35.19 L468.56,34.76 L469.97,34.34 L471.38,33.92 L472.80,33.49 L474.21,33.07 L475.62,32.64 L477.04,32.22 L478.45,31.79 L479.86,31.37 L481.27,31.07 L482.69,30.85 L484.10,30.62 L485.51,30.40 L486.93,30.18 L488.34,29.95 L489.75,29.73 L491.16,29.50 L492.58,29.28 L493.99,29.06 L495.40,28.83 L496.82,28.61 L498.23,28.38 L499.64,28.16 L501.05,27.94 L502.47,27.71 L503.88,27.49 L505.29,27.27 L506.71,27.04 L508.12,26.82 L509.53,26.59 L510.95,26.37 L512.36,26.15 L513.77,25.92 L515.18,25.70 L516.60,25.47 L518.01,25.25 L519.42,25.03 L520.84,24.80 L522.25,24.58 L523.66,24.35 L525.07,24.13 L526.49,23.95" fill="none" stroke="#ffffff" stroke-width="0.7" stroke-linejoin="round" stroke-linecap="round" stroke-dasharray="0.8 2.2" opacity="0.7"/>
<path d="M330.51,170.45 L331.93,170.27 L333.34,170.05 L334.75,169.82 L336.16,169.60 L337.58,169.37 L338.99,169.15 L340.40,168.93 L341.82,168.70 L343.23,168.48 L344.64,168.25 L346.05,168.03 L347.47,167.81 L348.88,167.58 L350.29,167.36 L351.71,167.13 L353.12,166.91 L354.53,166.69 L355.95,166.46 L357.36,166.24 L358.77,166.02 L360.18,165.79 L361.60,165.57 L363.01,165.34 L364.42,165.12 L365.84,164.90 L367.25,164.67 L368.66,164.45 L370.07,164.22 L371.49,164.00 L372.90,163.78 L374.31,163.55 L375.73,163.33 L377.14,163.03 L378.55,162.61 L379.96,162.18 L381.38,161.76 L382.79,161.33 L384.20,160.91 L385.62,160.48 L387.03,160.06 L388.44,159.64 L389.86,159.21 L391.27,158.79 L392.68,158.36 L394.09,157.79 L395.51,157.14 L396.92,156.48 L398.33,155.82 L399.75,155.16 L401.16,154.51 L402.57,153.78 L403.98,153.01 L405.40,152.24 L406.81,151.47 L408.22,150.70 L409.64,149.94 L411.05,148.82 L412.46,147.55 L413.88,146.28 L413.88,146.28 L414.12,146.06 L414.37,145.84 L414.61,145.62 L414.86,145.39 L415.10,145.17 L415.35,144.95 L415.60,144.73 L415.84,144.51 L416.09,144.29 L416.33,144.07 L416.58,143.85 L416.82,143.63 L417.07,143.35 L417.32,142.96 L417.56,142.57 L417.81,142.18 L418.05,141.79 L418.30,141.40 L418.55,141.01 L418.79,140.62 L419.04,140.23 L419.28,139.85 L419.53,139.46 L419.77,139.07 L420.02,138.68 L420.27,138.29 L420.51,137.90 L420.76,137.51 L421.00,137.12 L421.25,136.73 L421.49,136.34 L421.74,135.95 L421.99,135.53 L422.23,134.71 L422.48,133.90 L422.72,133.08 L422.97,132.27 L423.22,131.46 L423.46,130.64 L423.71,129.83 L423.95,129.02 L424.20,128.20 L424.44,127.39 L424.69,126.57 L424.94,125.76 L425.18,124.95 L425.43,124.13 L425.67,123.32 L425.92,122.51 L426.16,121.69 L426.41,120.61 L426.66,118.60 L426.90,116.60 L427.15,114.59 L427.39,112.59 L427.64,110.58 L427.89,108.58 L428.13,106.57 L428.38,104.57 L428.62,102.56 L428.87,100.56 L429.11,98.55 L429.36,96.54 L429.61,94.54 L429.85,92.53 L430.10,90.53 L430.34,88.52 L430.59,86.52 L430.84,84.51 L431.08,82.51 L431.33,80.50 L431.57,78.50 L431.82,76.49 L432.06,74.49 L432.31,72.99 L432.56,72.18 L432.80,71.36 L433.05,70.55 L433.29,69.74 L433.54,68.92 L433.78,68.11 L434.03,67.29 L434.28,66.48 L434.52,65.67 L434.77,64.85 L435.01,64.04 L435.26,63.23 L435.51,62.41 L435.75,61.60 L436.00,60.78 L436.24,59.97 L436.49,59.16 L436.73,58.59 L436.98,58.20 L437.23,57.81 L437.47,57.42 L437.72,57.03 L437.96,56.64 L438.21,56.25 L438.45,55.86 L438.70,55.47 L438.95,55.08 L439.19,54.69 L439.44,54.30 L439.68,53.91 L439.93,53.52 L440.18,53.13 L440.42,52.74 L440.67,52.35 L440.91,51.96 L441.16,51.57 L441.40,51.18 L441.65,50.85 L441.90,50.63 L442.14,50.41 L442.39,50.19 L442.63,49.97 L442.88,49.75 L443.12,49.52 L443.12,49.52 L444.54,48.25 L445.95,46.98 L447.36,45.71 L448.78,44.55 L450.19,43.78 L451.60,43.01 L453.02,42.24 L454.43,41.47 L455.84,40.70 L457.25,39.96 L458.67,39.30 L460.08,38.65 L461.49,37.99 L462.91,37.33 L464.32,36.68 L465.73,36.08 L467.14,35.66 L468.56,35.23 L469.97,34.81 L471.38,34.38 L472.80,33.96 L474.21,33.53 L475.62,33.11 L477.04,32.69 L478.45,32.26 L479.86,31.84 L481.27,31.41 L482.69,31.10 L484.10,30.87 L485.51,30.65 L486.93,30.42 L488.34,30.20 L489.75,29.98 L491.16,29.75 L492.58,29.53 L493.99,29.30 L495.40,29.08 L496.82,28.86 L498.23,28.63 L499.64,28.41 L501.05,28.18 L502.47,27.96 L503.88,27.74 L505.29,27.51 L506.71,27.29 L508.12,27.06 L509.53,26.84 L510.95,26.62 L512.36,26.39 L513.77,26.17 L515.18,25.94 L516.60,25.72 L518.01,25.50 L519.42,25.27 L520.84,25.05 L522.25,24.83 L523.66,24.60 L525.07,24.38 L526.49,24.15" fill="none" stroke="#6fd040" stroke-width="2.3" stroke-linejoin="round" stroke-linecap="round" />
<path d="M330.51,170.45 L331.93,170.27 L333.34,170.05 L334.75,169.82 L336.16,169.60 L337.58,169.37 L338.99,169.15 L340.40,168.93 L341.82,168.70 L343.23,168.48 L344.64,168.25 L346.05,168.03 L347.47,167.81 L348.88,167.58 L350.29,167.36 L351.71,167.13 L353.12,166.91 L354.53,166.69 L355.95,166.46 L357.36,166.24 L358.77,166.02 L360.18,165.79 L361.60,165.57 L363.01,165.34 L364.42,165.12 L365.84,164.90 L367.25,164.67 L368.66,164.45 L370.07,164.22 L371.49,164.00 L372.90,163.78 L374.31,163.55 L375.73,163.33 L377.14,163.03 L378.55,162.61 L379.96,162.18 L381.38,161.76 L382.79,161.33 L384.20,160.91 L385.62,160.48 L387.03,160.06 L388.44,159.64 L389.86,159.21 L391.27,158.79 L392.68,158.36 L394.09,157.79 L395.51,157.14 L396.92,156.48 L398.33,155.82 L399.75,155.16 L401.16,154.51 L402.57,153.78 L403.98,153.01 L405.40,152.24 L406.81,151.47 L408.22,150.70 L409.64,149.94 L411.05,148.82 L412.46,147.55 L413.88,146.28 L413.88,146.28 L414.12,146.06 L414.37,145.84 L414.61,145.62 L414.86,145.39 L415.10,145.17 L415.35,144.95 L415.60,144.73 L415.84,144.51 L416.09,144.29 L416.33,144.07 L416.58,143.85 L416.82,143.63 L417.07,143.35 L417.32,142.96 L417.56,142.57 L417.81,142.18 L418.05,141.79 L418.30,141.40 L418.55,141.01 L418.79,140.62 L419.04,140.23 L419.28,139.85 L419.53,139.46 L419.77,139.07 L420.02,138.68 L420.27,138.29 L420.51,137.90 L420.76,137.51 L421.00,137.12 L421.25,136.73 L421.49,136.34 L421.74,135.95 L421.99,135.53 L422.23,134.71 L422.48,133.90 L422.72,133.08 L422.97,132.27 L423.22,131.46 L423.46,130.64 L423.71,129.83 L423.95,129.02 L424.20,128.20 L424.44,127.39 L424.69,126.57 L424.94,125.76 L425.18,124.95 L425.43,124.13 L425.67,123.32 L425.92,122.51 L426.16,121.69 L426.41,120.61 L426.66,118.60 L426.90,116.60 L427.15,114.59 L427.39,112.59 L427.64,110.58 L427.89,108.58 L428.13,106.57 L428.38,104.57 L428.62,102.56 L428.87,100.56 L429.11,98.55 L429.36,96.54 L429.61,94.54 L429.85,92.53 L430.10,90.53 L430.34,88.52 L430.59,86.52 L430.84,84.51 L431.08,82.51 L431.33,80.50 L431.57,78.50 L431.82,76.49 L432.06,74.49 L432.31,72.99 L432.56,72.18 L432.80,71.36 L433.05,70.55 L433.29,69.74 L433.54,68.92 L433.78,68.11 L434.03,67.29 L434.28,66.48 L434.52,65.67 L434.77,64.85 L435.01,64.04 L435.26,63.23 L435.51,62.41 L435.75,61.60 L436.00,60.78 L436.24,59.97 L436.49,59.16 L436.73,58.59 L436.98,58.20 L437.23,57.81 L437.47,57.42 L437.72,57.03 L437.96,56.64 L438.21,56.25 L438.45,55.86 L438.70,55.47 L438.95,55.08 L439.19,54.69 L439.44,54.30 L439.68,53.91 L439.93,53.52 L440.18,53.13 L440.42,52.74 L440.67,52.35 L440.91,51.96 L441.16,51.57 L441.40,51.18 L441.65,50.85 L441.90,50.63 L442.14,50.41 L442.39,50.19 L442.63,49.97 L442.88,49.75 L443.12,49.52 L443.12,49.52 L444.54,48.25 L445.95,46.98 L447.36,45.71 L448.78,44.55 L450.19,43.78 L451.60,43.01 L453.02,42.24 L454.43,41.47 L455.84,40.70 L457.25,39.96 L458.67,39.30 L460.08,38.65 L461.49,37.99 L462.91,37.33 L464.32,36.68 L465.73,36.08 L467.14,35.66 L468.56,35.23 L469.97,34.81 L471.38,34.38 L472.80,33.96 L474.21,33.53 L475.62,33.11 L477.04,32.69 L478.45,32.26 L479.86,31.84 L481.27,31.41 L482.69,31.10 L484.10,30.87 L485.51,30.65 L486.93,30.42 L488.34,30.20 L489.75,29.98 L491.16,29.75 L492.58,29.53 L493.99,29.30 L495.40,29.08 L496.82,28.86 L498.23,28.63 L499.64,28.41 L501.05,28.18 L502.47,27.96 L503.88,27.74 L505.29,27.51 L506.71,27.29 L508.12,27.06 L509.53,26.84 L510.95,26.62 L512.36,26.39 L513.77,26.17 L515.18,25.94 L516.60,25.72 L518.01,25.50 L519.42,25.27 L520.84,25.05 L522.25,24.83 L523.66,24.60 L525.07,24.38 L526.49,24.15" fill="none" stroke="#ffffff" stroke-width="0.7" stroke-linejoin="round" stroke-linecap="round" stroke-dasharray="0.8 2.2" opacity="0.7"/>
<path d="M330.51,161.35 L331.93,161.22 L333.34,161.09 L334.75,160.96 L336.16,160.84 L337.58,160.71 L338.99,160.58 L340.40,160.45 L341.82,160.32 L343.23,160.20 L344.64,160.07 L346.05,159.94 L347.47,159.81 L348.88,159.68 L350.29,159.56 L351.71,159.43 L353.12,159.30 L354.53,159.17 L355.95,159.05 L357.36,158.92 L358.77,158.79 L360.18,158.66 L361.60,158.53 L363.01,158.41 L364.42,158.28 L365.84,158.15 L367.25,158.02 L368.66,157.89 L370.07,157.77 L371.49,157.64 L372.90,157.51 L374.31,157.38 L375.73,157.09 L377.14,156.79 L378.55,156.49 L379.96,156.19 L381.38,155.89 L382.79,155.59 L384.20,155.29 L385.62,154.99 L387.03,154.68 L388.44,154.38 L389.86,154.08 L391.27,153.74 L392.68,153.27 L394.09,152.79 L395.51,152.31 L396.92,151.83 L398.33,151.35 L399.75,150.84 L401.16,150.16 L402.57,149.48 L403.98,148.79 L405.40,148.11 L406.81,147.28 L408.22,146.34 L409.64,145.40 L411.05,144.47 L412.46,143.33 L413.88,141.85 L413.88,141.85 L414.12,141.59 L414.37,141.33 L414.61,141.07 L414.86,140.82 L415.10,140.56 L415.35,140.30 L415.60,140.05 L415.84,139.79 L416.09,139.53 L416.33,139.27 L416.58,139.02 L416.82,138.76 L417.07,138.50 L417.32,138.24 L417.56,137.99 L417.81,137.73 L418.05,137.18 L418.30,136.53 L418.55,135.87 L418.79,135.22 L419.04,134.57 L419.28,133.91 L419.53,133.26 L419.77,132.60 L420.02,131.95 L420.27,131.30 L420.51,130.64 L420.76,129.99 L421.00,129.33 L421.25,128.68 L421.49,128.03 L421.74,127.37 L421.99,126.72 L422.23,126.06 L422.48,125.41 L422.72,124.76 L422.97,124.10 L423.22,123.45 L423.46,122.80 L423.71,122.14 L423.95,121.49 L424.20,120.46 L424.44,118.74 L424.69,117.02 L424.94,115.30 L425.18,113.59 L425.43,111.87 L425.67,110.15 L425.92,108.43 L426.16,106.71 L426.41,104.99 L426.66,103.27 L426.90,101.55 L427.15,99.84 L427.39,98.12 L427.64,96.40 L427.89,94.68 L428.13,92.96 L428.38,91.24 L428.62,89.52 L428.87,87.80 L429.11,86.09 L429.36,84.37 L429.61,82.65 L429.85,80.93 L430.10,79.21 L430.34,77.49 L430.59,75.77 L430.84,74.05 L431.08,72.96 L431.33,72.30 L431.57,71.65 L431.82,70.99 L432.06,70.34 L432.31,69.69 L432.56,69.03 L432.80,68.38 L433.05,67.72 L433.29,67.07 L433.54,66.42 L433.78,65.76 L434.03,65.11 L434.28,64.46 L434.52,63.80 L434.77,63.15 L435.01,62.49 L435.26,61.84 L435.51,61.19 L435.75,60.53 L436.00,59.88 L436.24,59.22 L436.49,58.57 L436.73,57.92 L436.98,57.26 L437.23,56.69 L437.47,56.43 L437.72,56.17 L437.96,55.92 L438.21,55.66 L438.45,55.40 L438.70,55.14 L438.95,54.89 L439.19,54.63 L439.44,54.37 L439.68,54.11 L439.93,53.86 L440.18,53.60 L440.42,53.34 L440.67,53.09 L440.91,52.83 L441.16,52.57 L441.40,52.31 L441.65,52.06 L441.90,51.80 L442.14,51.54 L442.39,51.28 L442.63,51.03 L442.88,50.77 L443.12,50.51 L443.12,50.51 L444.54,49.58 L445.95,48.64 L447.36,47.70 L448.78,46.77 L450.19,46.03 L451.60,45.35 L453.02,44.66 L454.43,43.98 L455.84,43.34 L457.25,42.87 L458.67,42.39 L460.08,41.91 L461.49,41.43 L462.91,40.95 L464.32,40.50 L465.73,40.20 L467.14,39.90 L468.56,39.60 L469.97,39.30 L471.38,39.00 L472.80,38.70 L474.21,38.40 L475.62,38.10 L477.04,37.80 L478.45,37.50 L479.86,37.20 L481.27,36.97 L482.69,36.84 L484.10,36.71 L485.51,36.59 L486.93,36.46 L488.34,36.33 L489.75,36.20 L491.16,36.07 L492.58,35.95 L493.99,35.82 L495.40,35.69 L496.82,35.56 L498.23,35.43 L499.64,35.31 L501.05,35.18 L502.47,35.05 L503.88,34.92 L505.29,34.79 L506.71,34.67 L508.12,34.54 L509.53,34.41 L510.95,34.28 L512.36,34.15 L513.77,34.03 L515.18,33.90 L516.60,33.77 L518.01,33.64 L519.42,33.51 L520.84,33.39 L522.25,33.26 L523.66,33.13 L525.07,33.00 L526.49,32.88" fill="none" stroke="#484848" stroke-width="2.1" stroke-linejoin="round" stroke-linecap="round" />
<path d="M330.51,161.35 L331.93,161.22 L333.34,161.09 L334.75,160.96 L336.16,160.84 L337.58,160.71 L338.99,160.58 L340.40,160.45 L341.82,160.32 L343.23,160.20 L344.64,160.07 L346.05,159.94 L347.47,159.81 L348.88,159.68 L350.29,159.56 L351.71,159.43 L353.12,159.30 L354.53,159.17 L355.95,159.05 L357.36,158.92 L358.77,158.79 L360.18,158.66 L361.60,158.53 L363.01,158.41 L364.42,158.28 L365.84,158.15 L367.25,158.02 L368.66,157.89 L370.07,157.77 L371.49,157.64 L372.90,157.51 L374.31,157.38 L375.73,157.09 L377.14,156.79 L378.55,156.49 L379.96,156.19 L381.38,155.89 L382.79,155.59 L384.20,155.29 L385.62,154.99 L387.03,154.68 L388.44,154.38 L389.86,154.08 L391.27,153.74 L392.68,153.27 L394.09,152.79 L395.51,152.31 L396.92,151.83 L398.33,151.35 L399.75,150.84 L401.16,150.16 L402.57,149.48 L403.98,148.79 L405.40,148.11 L406.81,147.28 L408.22,146.34 L409.64,145.40 L411.05,144.47 L412.46,143.33 L413.88,141.85 L413.88,141.85 L414.12,141.59 L414.37,141.33 L414.61,141.07 L414.86,140.82 L415.10,140.56 L415.35,140.30 L415.60,140.05 L415.84,139.79 L416.09,139.53 L416.33,139.27 L416.58,139.02 L416.82,138.76 L417.07,138.50 L417.32,138.24 L417.56,137.99 L417.81,137.73 L418.05,137.18 L418.30,136.53 L418.55,135.87 L418.79,135.22 L419.04,134.57 L419.28,133.91 L419.53,133.26 L419.77,132.60 L420.02,131.95 L420.27,131.30 L420.51,130.64 L420.76,129.99 L421.00,129.33 L421.25,128.68 L421.49,128.03 L421.74,127.37 L421.99,126.72 L422.23,126.06 L422.48,125.41 L422.72,124.76 L422.97,124.10 L423.22,123.45 L423.46,122.80 L423.71,122.14 L423.95,121.49 L424.20,120.46 L424.44,118.74 L424.69,117.02 L424.94,115.30 L425.18,113.59 L425.43,111.87 L425.67,110.15 L425.92,108.43 L426.16,106.71 L426.41,104.99 L426.66,103.27 L426.90,101.55 L427.15,99.84 L427.39,98.12 L427.64,96.40 L427.89,94.68 L428.13,92.96 L428.38,91.24 L428.62,89.52 L428.87,87.80 L429.11,86.09 L429.36,84.37 L429.61,82.65 L429.85,80.93 L430.10,79.21 L430.34,77.49 L430.59,75.77 L430.84,74.05 L431.08,72.96 L431.33,72.30 L431.57,71.65 L431.82,70.99 L432.06,70.34 L432.31,69.69 L432.56,69.03 L432.80,68.38 L433.05,67.72 L433.29,67.07 L433.54,66.42 L433.78,65.76 L434.03,65.11 L434.28,64.46 L434.52,63.80 L434.77,63.15 L435.01,62.49 L435.26,61.84 L435.51,61.19 L435.75,60.53 L436.00,59.88 L436.24,59.22 L436.49,58.57 L436.73,57.92 L436.98,57.26 L437.23,56.69 L437.47,56.43 L437.72,56.17 L437.96,55.92 L438.21,55.66 L438.45,55.40 L438.70,55.14 L438.95,54.89 L439.19,54.63 L439.44,54.37 L439.68,54.11 L439.93,53.86 L440.18,53.60 L440.42,53.34 L440.67,53.09 L440.91,52.83 L441.16,52.57 L441.40,52.31 L441.65,52.06 L441.90,51.80 L442.14,51.54 L442.39,51.28 L442.63,51.03 L442.88,50.77 L443.12,50.51 L443.12,50.51 L444.54,49.58 L445.95,48.64 L447.36,47.70 L448.78,46.77 L450.19,46.03 L451.60,45.35 L453.02,44.66 L454.43,43.98 L455.84,43.34 L457.25,42.87 L458.67,42.39 L460.08,41.91 L461.49,41.43 L462.91,40.95 L464.32,40.50 L465.73,40.20 L467.14,39.90 L468.56,39.60 L469.97,39.30 L471.38,39.00 L472.80,38.70 L474.21,38.40 L475.62,38.10 L477.04,37.80 L478.45,37.50 L479.86,37.20 L481.27,36.97 L482.69,36.84 L484.10,36.71 L485.51,36.59 L486.93,36.46 L488.34,36.33 L489.75,36.20 L491.16,36.07 L492.58,35.95 L493.99,35.82 L495.40,35.69 L496.82,35.56 L498.23,35.43 L499.64,35.31 L501.05,35.18 L502.47,35.05 L503.88,34.92 L505.29,34.79 L506.71,34.67 L508.12,34.54 L509.53,34.41 L510.95,34.28 L512.36,34.15 L513.77,34.03 L515.18,33.90 L516.60,33.77 L518.01,33.64 L519.42,33.51 L520.84,33.39 L522.25,33.26 L523.66,33.13 L525.07,33.00 L526.49,32.88" fill="none" stroke="#ffffff" stroke-width="0.7" stroke-linejoin="round" stroke-linecap="round" stroke-dasharray="0.8 2.2" opacity="0.7"/>
<path d="M330.51,161.53 L331.93,161.40 L333.34,161.27 L334.75,161.14 L336.16,161.01 L337.58,160.89 L338.99,160.76 L340.40,160.63 L341.82,160.50 L343.23,160.37 L344.64,160.25 L346.05,160.12 L347.47,159.99 L348.88,159.86 L350.29,159.73 L351.71,159.61 L353.12,159.48 L354.53,159.35 L355.95,159.22 L357.36,159.09 L358.77,158.97 L360.18,158.84 L361.60,158.71 L363.01,158.58 L364.42,158.45 L365.84,158.33 L367.25,158.20 L368.66,158.07 L370.07,157.94 L371.49,157.81 L372.90,157.69 L374.31,157.56 L375.73,157.43 L377.14,157.20 L378.55,156.90 L379.96,156.60 L381.38,156.30 L382.79,156.00 L384.20,155.70 L385.62,155.40 L387.03,155.10 L388.44,154.80 L389.86,154.50 L391.27,154.20 L392.68,153.90 L394.09,153.45 L395.51,152.97 L396.92,152.49 L398.33,152.01 L399.75,151.53 L401.16,151.06 L402.57,150.42 L403.98,149.74 L405.40,149.05 L406.81,148.37 L408.22,147.63 L409.64,146.70 L411.05,145.76 L412.46,144.82 L413.88,143.89 L413.88,143.89 L414.12,143.63 L414.37,143.37 L414.61,143.12 L414.86,142.86 L415.10,142.60 L415.35,142.34 L415.60,142.09 L415.84,141.83 L416.09,141.57 L416.33,141.31 L416.58,141.06 L416.82,140.80 L417.07,140.54 L417.32,140.29 L417.56,140.03 L417.81,139.77 L418.05,139.51 L418.30,139.26 L418.55,139.00 L418.79,138.74 L419.04,138.48 L419.28,138.23 L419.53,137.97 L419.77,137.71 L420.02,137.14 L420.27,136.48 L420.51,135.83 L420.76,135.18 L421.00,134.52 L421.25,133.87 L421.49,133.21 L421.74,132.56 L421.99,131.91 L422.23,131.25 L422.48,130.60 L422.72,129.94 L422.97,129.29 L423.22,128.64 L423.46,127.98 L423.71,127.33 L423.95,126.68 L424.20,126.02 L424.44,125.37 L424.69,124.71 L424.94,124.06 L425.18,123.41 L425.43,122.75 L425.67,122.10 L425.92,121.44 L426.16,120.35 L426.41,118.63 L426.66,116.91 L426.90,115.19 L427.15,113.47 L427.39,111.75 L427.64,110.03 L427.89,108.31 L428.13,106.60 L428.38,104.88 L428.62,103.16 L428.87,101.44 L429.11,99.72 L429.36,98.00 L429.61,96.28 L429.85,94.56 L430.10,92.85 L430.34,91.13 L430.59,89.41 L430.84,87.69 L431.08,85.97 L431.33,84.25 L431.57,82.53 L431.82,80.81 L432.06,79.10 L432.31,77.38 L432.56,75.66 L432.80,73.94 L433.05,72.91 L433.29,72.26 L433.54,71.60 L433.78,70.95 L434.03,70.30 L434.28,69.64 L434.52,68.99 L434.77,68.34 L435.01,67.68 L435.26,67.03 L435.51,66.37 L435.75,65.72 L436.00,65.07 L436.24,64.41 L436.49,63.76 L436.73,63.10 L436.98,62.45 L437.23,61.80 L437.47,61.14 L437.72,60.49 L437.96,59.83 L438.21,59.18 L438.45,58.53 L438.70,57.87 L438.95,57.22 L439.19,56.67 L439.44,56.41 L439.68,56.16 L439.93,55.90 L440.18,55.64 L440.42,55.38 L440.67,55.13 L440.91,54.87 L441.16,54.61 L441.40,54.35 L441.65,54.10 L441.90,53.84 L442.14,53.58 L442.39,53.33 L442.63,53.07 L442.88,52.81 L443.12,52.55 L443.12,52.55 L444.54,51.07 L445.95,49.93 L447.36,49.00 L448.78,48.06 L450.19,47.12 L451.60,46.29 L453.02,45.61 L454.43,44.92 L455.84,44.24 L457.25,43.56 L458.67,43.05 L460.08,42.57 L461.49,42.09 L462.91,41.61 L464.32,41.13 L465.73,40.66 L467.14,40.32 L468.56,40.02 L469.97,39.72 L471.38,39.41 L472.80,39.11 L474.21,38.81 L475.62,38.51 L477.04,38.21 L478.45,37.91 L479.86,37.61 L481.27,37.31 L482.69,37.02 L484.10,36.89 L485.51,36.76 L486.93,36.63 L488.34,36.51 L489.75,36.38 L491.16,36.25 L492.58,36.12 L493.99,35.99 L495.40,35.87 L496.82,35.74 L498.23,35.61 L499.64,35.48 L501.05,35.35 L502.47,35.23 L503.88,35.10 L505.29,34.97 L506.71,34.84 L508.12,34.72 L509.53,34.59 L510.95,34.46 L512.36,34.33 L513.77,34.20 L515.18,34.08 L516.60,33.95 L518.01,33.82 L519.42,33.69 L520.84,33.56 L522.25,33.44 L523.66,33.31 L525.07,33.18 L526.49,33.05" fill="none" stroke="#484848" stroke-width="2.1" stroke-linejoin="round" stroke-linecap="round" />
<path d="M330.51,161.53 L331.93,161.40 L333.34,161.27 L334.75,161.14 L336.16,161.01 L337.58,160.89 L338.99,160.76 L340.40,160.63 L341.82,160.50 L343.23,160.37 L344.64,160.25 L346.05,160.12 L347.47,159.99 L348.88,159.86 L350.29,159.73 L351.71,159.61 L353.12,159.48 L354.53,159.35 L355.95,159.22 L357.36,159.09 L358.77,158.97 L360.18,158.84 L361.60,158.71 L363.01,158.58 L364.42,158.45 L365.84,158.33 L367.25,158.20 L368.66,158.07 L370.07,157.94 L371.49,157.81 L372.90,157.69 L374.31,157.56 L375.73,157.43 L377.14,157.20 L378.55,156.90 L379.96,156.60 L381.38,156.30 L382.79,156.00 L384.20,155.70 L385.62,155.40 L387.03,155.10 L388.44,154.80 L389.86,154.50 L391.27,154.20 L392.68,153.90 L394.09,153.45 L395.51,152.97 L396.92,152.49 L398.33,152.01 L399.75,151.53 L401.16,151.06 L402.57,150.42 L403.98,149.74 L405.40,149.05 L406.81,148.37 L408.22,147.63 L409.64,146.70 L411.05,145.76 L412.46,144.82 L413.88,143.89 L413.88,143.89 L414.12,143.63 L414.37,143.37 L414.61,143.12 L414.86,142.86 L415.10,142.60 L415.35,142.34 L415.60,142.09 L415.84,141.83 L416.09,141.57 L416.33,141.31 L416.58,141.06 L416.82,140.80 L417.07,140.54 L417.32,140.29 L417.56,140.03 L417.81,139.77 L418.05,139.51 L418.30,139.26 L418.55,139.00 L418.79,138.74 L419.04,138.48 L419.28,138.23 L419.53,137.97 L419.77,137.71 L420.02,137.14 L420.27,136.48 L420.51,135.83 L420.76,135.18 L421.00,134.52 L421.25,133.87 L421.49,133.21 L421.74,132.56 L421.99,131.91 L422.23,131.25 L422.48,130.60 L422.72,129.94 L422.97,129.29 L423.22,128.64 L423.46,127.98 L423.71,127.33 L423.95,126.68 L424.20,126.02 L424.44,125.37 L424.69,124.71 L424.94,124.06 L425.18,123.41 L425.43,122.75 L425.67,122.10 L425.92,121.44 L426.16,120.35 L426.41,118.63 L426.66,116.91 L426.90,115.19 L427.15,113.47 L427.39,111.75 L427.64,110.03 L427.89,108.31 L428.13,106.60 L428.38,104.88 L428.62,103.16 L428.87,101.44 L429.11,99.72 L429.36,98.00 L429.61,96.28 L429.85,94.56 L430.10,92.85 L430.34,91.13 L430.59,89.41 L430.84,87.69 L431.08,85.97 L431.33,84.25 L431.57,82.53 L431.82,80.81 L432.06,79.10 L432.31,77.38 L432.56,75.66 L432.80,73.94 L433.05,72.91 L433.29,72.26 L433.54,71.60 L433.78,70.95 L434.03,70.30 L434.28,69.64 L434.52,68.99 L434.77,68.34 L435.01,67.68 L435.26,67.03 L435.51,66.37 L435.75,65.72 L436.00,65.07 L436.24,64.41 L436.49,63.76 L436.73,63.10 L436.98,62.45 L437.23,61.80 L437.47,61.14 L437.72,60.49 L437.96,59.83 L438.21,59.18 L438.45,58.53 L438.70,57.87 L438.95,57.22 L439.19,56.67 L439.44,56.41 L439.68,56.16 L439.93,55.90 L440.18,55.64 L440.42,55.38 L440.67,55.13 L440.91,54.87 L441.16,54.61 L441.40,54.35 L441.65,54.10 L441.90,53.84 L442.14,53.58 L442.39,53.33 L442.63,53.07 L442.88,52.81 L443.12,52.55 L443.12,52.55 L444.54,51.07 L445.95,49.93 L447.36,49.00 L448.78,48.06 L450.19,47.12 L451.60,46.29 L453.02,45.61 L454.43,44.92 L455.84,44.24 L457.25,43.56 L458.67,43.05 L460.08,42.57 L461.49,42.09 L462.91,41.61 L464.32,41.13 L465.73,40.66 L467.14,40.32 L468.56,40.02 L469.97,39.72 L471.38,39.41 L472.80,39.11 L474.21,38.81 L475.62,38.51 L477.04,38.21 L478.45,37.91 L479.86,37.61 L481.27,37.31 L482.69,37.02 L484.10,36.89 L485.51,36.76 L486.93,36.63 L488.34,36.51 L489.75,36.38 L491.16,36.25 L492.58,36.12 L493.99,35.99 L495.40,35.87 L496.82,35.74 L498.23,35.61 L499.64,35.48 L501.05,35.35 L502.47,35.23 L503.88,35.10 L505.29,34.97 L506.71,34.84 L508.12,34.72 L509.53,34.59 L510.95,34.46 L512.36,34.33 L513.77,34.20 L515.18,34.08 L516.60,33.95 L518.01,33.82 L519.42,33.69 L520.84,33.56 L522.25,33.44 L523.66,33.31 L525.07,33.18 L526.49,33.05" fill="none" stroke="#ffffff" stroke-width="0.7" stroke-linejoin="round" stroke-linecap="round" stroke-dasharray="0.8 2.2" opacity="0.7"/>
<rect x="327.5" y="3.5" width="201.89999999999998" height="189.1" fill="none" stroke="#000" stroke-width="1.7"/>
<line x1="331.0" y1="192.6" x2="331.0" y2="190.1" stroke="#000" stroke-width="1.2"/>
<line x1="379.75" y1="192.6" x2="379.75" y2="190.1" stroke="#000" stroke-width="1.2"/>
<line x1="428.5" y1="192.6" x2="428.5" y2="190.1" stroke="#000" stroke-width="1.2"/>
<line x1="477.25" y1="192.6" x2="477.25" y2="190.1" stroke="#000" stroke-width="1.2"/>
<line x1="526.0" y1="192.6" x2="526.0" y2="190.1" stroke="#000" stroke-width="1.2"/>
<text x="375.85" y="203.60" font-size="10" style="font-family:'Liberation Serif',serif;font-weight:bold" fill="#000" textLength="8.00" lengthAdjust="spacingAndGlyphs">-5</text>
<text x="425.60" y="203.40" font-size="10" style="font-family:'Liberation Serif',serif;font-weight:bold" fill="#000" textLength="5.31" lengthAdjust="spacingAndGlyphs">0</text>
<text x="473.96" y="203.60" font-size="10" style="font-family:'Liberation Serif',serif;font-weight:bold" fill="#000" textLength="5.43" lengthAdjust="spacingAndGlyphs">5</text>
<text x="520.18" y="203.90" font-size="10" style="font-family:'Liberation Serif',serif;font-weight:bold" fill="#000" textLength="10.21" lengthAdjust="spacingAndGlyphs">10</text>
<text x="315.45" y="206.80" font-size="9.8" style="font-family:'Liberation Serif',serif;font-weight:bold" fill="#000" textLength="26.91" lengthAdjust="spacingAndGlyphs">-10x10</text>
<text x="343.46" y="200.30" font-size="5.5" style="font-family:'Liberation Serif',serif;font-weight:bold" fill="#000" textLength="3.15" lengthAdjust="spacingAndGlyphs">3</text>
<line x1="327.5" y1="180.2" x2="330.0" y2="180.2" stroke="#000" stroke-width="1.2"/>
<text x="313.35" y="183.60" font-size="10" style="font-family:'Liberation Serif',serif;font-weight:bold" fill="#000">-40</text>
<line x1="327.5" y1="138.7" x2="330.0" y2="138.7" stroke="#000" stroke-width="1.2"/>
<text x="313.35" y="142.10" font-size="10" style="font-family:'Liberation Serif',serif;font-weight:bold" fill="#000">-20</text>
<line x1="327.5" y1="97.2" x2="330.0" y2="97.2" stroke="#000" stroke-width="1.2"/>
<text x="321.68" y="100.60" font-size="10" style="font-family:'Liberation Serif',serif;font-weight:bold" fill="#000">0</text>
<line x1="327.5" y1="55.7" x2="330.0" y2="55.7" stroke="#000" stroke-width="1.2"/>
<text x="316.68" y="59.10" font-size="10" style="font-family:'Liberation Serif',serif;font-weight:bold" fill="#000">20</text>
<line x1="327.5" y1="14.200000000000003" x2="330.0" y2="14.200000000000003" stroke="#000" stroke-width="1.2"/>
<text x="316.68" y="17.60" font-size="10" style="font-family:'Liberation Serif',serif;font-weight:bold" fill="#000">40</text>
<text x="-0.18" y="0" font-size="12" style="font-family:'Liberation Serif',serif;font-weight:bold" fill="#000" textLength="102.45" lengthAdjust="spacingAndGlyphs" transform="translate(310.60,148.60) rotate(-90)">Magnetisation (emu/g)</text>
<text x="406.93" y="213.00" font-size="10.8" style="font-family:'Liberation Serif',serif;font-weight:bold" fill="#000" textLength="43.11" lengthAdjust="spacingAndGlyphs">Field (Oe)</text>
<text x="333.81" y="21.60" font-size="13.6" style="font-family:'Liberation Serif',serif;font-weight:bold" fill="#000" textLength="16.27" lengthAdjust="spacingAndGlyphs">(b)</text>
<line x1="468.4" y1="46.6" x2="483.4" y2="46.6" stroke="#ff0000" stroke-width="1.6"/>
<circle cx="475.8" cy="46.6" r="2.9" fill="#fff" stroke="#ff0000" stroke-width="1.4"/>
<text x="486.67" y="49.50" font-size="8.6" style="font-family:'Liberation Serif',serif;font-weight:bold" fill="#000" textLength="26.84" lengthAdjust="spacingAndGlyphs">x=0.000</text>
<line x1="468.4" y1="55.900000000000006" x2="483.4" y2="55.900000000000006" stroke="#0000ff" stroke-width="1.6"/>
<rect x="472.90000000000003" y="53.00000000000001" width="5.8" height="5.8" fill="#fff" stroke="#0000ff" stroke-width="1.4"/>
<text x="486.67" y="58.80" font-size="8.6" style="font-family:'Liberation Serif',serif;font-weight:bold" fill="#000" textLength="26.83" lengthAdjust="spacingAndGlyphs">x=0.025</text>
<line x1="468.4" y1="65.2" x2="483.4" y2="65.2" stroke="#ff00ff" stroke-width="1.6"/>
<path d="M475.8,62.300000000000004 L478.7,67.52 L472.90000000000003,67.52Z" fill="#fff" stroke="#ff00ff" stroke-width="1.4"/>
<text x="486.67" y="68.10" font-size="8.6" style="font-family:'Liberation Serif',serif;font-weight:bold" fill="#000" textLength="26.84" lengthAdjust="spacingAndGlyphs">x=0.050</text>
<line x1="468.4" y1="74.5" x2="483.4" y2="74.5" stroke="#66cc33" stroke-width="1.6"/>
<path d="M478.7,74.5 L473.48,71.6 L473.48,77.4Z" fill="#fff" stroke="#66cc33" stroke-width="1.4"/>
<text x="486.67" y="77.40" font-size="8.6" style="font-family:'Liberation Serif',serif;font-weight:bold" fill="#000" textLength="26.83" lengthAdjust="spacingAndGlyphs">x=0.075</text>
<line x1="468.4" y1="83.80000000000001" x2="483.4" y2="83.80000000000001" stroke="#000000" stroke-width="1.6"/>
<path d="M475.8,80.9 L478.7,83.80000000000001 L475.8,86.70000000000002 L472.90000000000003,83.80000000000001Z" fill="#fff" stroke="#000000" stroke-width="1.4"/>
<text x="486.67" y="86.70" font-size="8.6" style="font-family:'Liberation Serif',serif;font-weight:bold" fill="#000" textLength="26.84" lengthAdjust="spacingAndGlyphs">x=0.100</text>
<rect x="355.2" y="19.9" width="56.0" height="43.5" fill="#fff" stroke="#000" stroke-width="1.2"/>
<path d="M357.20,22.90 L370.20,29.30 L383.30,40.20 L396.60,54.70 L409.30,47.80" fill="none" stroke="#ff0000" stroke-width="1.6" stroke-linejoin="round" stroke-linecap="round" />
<circle cx="357.2" cy="22.9" r="1.9" fill="#ff0000"/>
<circle cx="370.2" cy="29.3" r="1.9" fill="#ff0000"/>
<circle cx="383.3" cy="40.2" r="1.9" fill="#ff0000"/>
<circle cx="396.6" cy="54.7" r="1.9" fill="#ff0000"/>
<circle cx="409.3" cy="47.8" r="1.9" fill="#ff0000"/>
<text x="345.61" y="32.40" font-size="5.6" style="font-family:'Liberation Serif',serif;font-weight:bold" fill="#000">300</text>
<text x="345.61" y="44.30" font-size="5.6" style="font-family:'Liberation Serif',serif;font-weight:bold" fill="#000">200</text>
<text x="345.61" y="56.40" font-size="5.6" style="font-family:'Liberation Serif',serif;font-weight:bold" fill="#000">100</text>
<text x="355.75" y="70.50" font-size="5.8" style="font-family:'Liberation Serif',serif;font-weight:bold" fill="#000">0</text>
<text x="365.49" y="70.50" font-size="5.8" style="font-family:'Liberation Serif',serif;font-weight:bold" fill="#000">20</text>
<text x="374.97" y="70.50" font-size="5.8" style="font-family:'Liberation Serif',serif;font-weight:bold" fill="#000">40</text>
<text x="385.11" y="70.50" font-size="5.8" style="font-family:'Liberation Serif',serif;font-weight:bold" fill="#000">60</text>
<text x="394.61" y="70.50" font-size="5.8" style="font-family:'Liberation Serif',serif;font-weight:bold" fill="#000">80</text>
<text x="399.77" y="70.70" font-size="5.2" style="font-family:'Liberation Serif',serif;font-weight:bold" fill="#000" textLength="15.93" lengthAdjust="spacingAndGlyphs">100x10</text>
<text x="416.26" y="65.50" font-size="4" style="font-family:'Liberation Serif',serif;font-weight:bold" fill="#000" textLength="3.17" lengthAdjust="spacingAndGlyphs">-3</text>
<text x="365.41" y="75.60" font-size="6.5" style="font-family:'Liberation Serif',serif;font-weight:bold" fill="#000" textLength="31.02" lengthAdjust="spacingAndGlyphs">Tb content, x</text>
<text x="-0.11" y="0" font-size="6.5" style="font-family:'Liberation Serif',serif;font-weight:bold" fill="#000" textLength="22.20" lengthAdjust="spacingAndGlyphs" transform="translate(343.40,51.80) rotate(-90)">Hc (Oe)</text>
<rect x="446.2" y="119.4" width="60.69999999999999" height="47.79999999999998" fill="#fff" stroke="#000" stroke-width="1.2"/>
<path d="M449.30,122.40 L463.60,140.40 L477.50,147.70 L491.40,152.30 L505.30,164.60" fill="none" stroke="#ff0000" stroke-width="1.6" stroke-linejoin="round" stroke-linecap="round" />
<circle cx="449.3" cy="122.4" r="2" fill="#ff0000"/>
<circle cx="463.6" cy="140.4" r="2" fill="#ff0000"/>
<circle cx="477.5" cy="147.7" r="2" fill="#ff0000"/>
<circle cx="491.4" cy="152.3" r="2" fill="#ff0000"/>
<circle cx="505.3" cy="164.6" r="2" fill="#ff0000"/>
<text x="440.40" y="124.30" font-size="5.6" style="font-family:'Liberation Serif',serif;font-weight:bold" fill="#000">44</text>
<text x="440.51" y="137.10" font-size="5.6" style="font-family:'Liberation Serif',serif;font-weight:bold" fill="#000">40</text>
<text x="440.46" y="149.80" font-size="5.6" style="font-family:'Liberation Serif',serif;font-weight:bold" fill="#000">36</text>
<text x="440.54" y="162.50" font-size="5.6" style="font-family:'Liberation Serif',serif;font-weight:bold" fill="#000">32</text>
<text x="448.15" y="174.20" font-size="5.8" style="font-family:'Liberation Serif',serif;font-weight:bold" fill="#000">0</text>
<text x="457.39" y="174.20" font-size="5.8" style="font-family:'Liberation Serif',serif;font-weight:bold" fill="#000">20</text>
<text x="468.87" y="174.20" font-size="5.8" style="font-family:'Liberation Serif',serif;font-weight:bold" fill="#000">40</text>
<text x="479.51" y="174.20" font-size="5.8" style="font-family:'Liberation Serif',serif;font-weight:bold" fill="#000">60</text>
<text x="489.31" y="174.20" font-size="5.8" style="font-family:'Liberation Serif',serif;font-weight:bold" fill="#000">80</text>
<text x="495.87" y="174.60" font-size="5.2" style="font-family:'Liberation Serif',serif;font-weight:bold" fill="#000" textLength="15.93" lengthAdjust="spacingAndGlyphs">100x10</text>
<text x="511.85" y="170.00" font-size="4" style="font-family:'Liberation Serif',serif;font-weight:bold" fill="#000" textLength="3.39" lengthAdjust="spacingAndGlyphs">-3</text>
<text x="460.21" y="179.90" font-size="6.5" style="font-family:'Liberation Serif',serif;font-weight:bold" fill="#000" textLength="32.82" lengthAdjust="spacingAndGlyphs">Tb content, x</text>
<text x="-0.13" y="0" font-size="6.5" style="font-family:'Liberation Serif',serif;font-weight:bold" fill="#000" textLength="33.25" lengthAdjust="spacingAndGlyphs" transform="translate(438.80,158.40) rotate(-90)">M (emu/g)</text>
<rect x="364.0" y="102.7" width="41.69999999999999" height="29.200000000000003" fill="#fff" stroke="#000" stroke-width="1.4"/>
<path d="M364.73,107.73 L366.00,106.45 L374.27,104.55 L382.55,103.91" fill="none" stroke="#ff0000" stroke-width="1.3" stroke-linejoin="round" stroke-linecap="round" />
<path d="M377.46,130.00 L390.18,127.84 L395.91,123.00 L404.18,117.91" fill="none" stroke="#ff0000" stroke-width="1.3" stroke-linejoin="round" stroke-linecap="round" />
<path d="M364.73,112.82 L370.46,110.27 L379.36,109.00 L385.73,105.82 L392.09,103.91" fill="none" stroke="#0000ff" stroke-width="1.3" stroke-linejoin="round" stroke-linecap="round" />
<path d="M364.73,129.36 L374.27,125.55 L380.64,124.27 L388.27,121.73 L404.18,115.36" fill="none" stroke="#0000ff" stroke-width="1.3" stroke-linejoin="round" stroke-linecap="round" />
<path d="M364.73,115.36 L379.36,110.91 L387.00,108.36 L404.18,103.91" fill="none" stroke="#ff00ff" stroke-width="1.3" stroke-linejoin="round" stroke-linecap="round" />
<path d="M364.73,127.46 L379.36,123.64 L404.18,113.45" fill="none" stroke="#ff00ff" stroke-width="1.3" stroke-linejoin="round" stroke-linecap="round" />
<path d="M364.73,118.55 L379.36,115.36 L404.18,107.73" fill="none" stroke="#00cc00" stroke-width="1.3" stroke-linejoin="round" stroke-linecap="round" />
<path d="M364.73,122.36 L379.36,119.18 L404.18,111.55" fill="none" stroke="#00cc00" stroke-width="1.3" stroke-linejoin="round" stroke-linecap="round" />
<path d="M364.73,117.65 L404.18,107.35" fill="none" stroke="#000000" stroke-width="1.3" stroke-linejoin="round" stroke-linecap="round" />
<path d="M364.73,123.64 L404.18,112.82" fill="none" stroke="#000000" stroke-width="1.3" stroke-linejoin="round" stroke-linecap="round" />
<line x1="379.6" y1="102.7" x2="379.6" y2="131.9" stroke="#000" stroke-width="1.2"/>
<rect x="364.0" y="102.7" width="41.69999999999999" height="29.200000000000003" fill="none" stroke="#000" stroke-width="1.4"/>
<text x="362.8" y="106.3" font-size="5.5" text-anchor="end" style="font-family:'Liberation Sans',sans-serif;font-weight:bold" fill="#000" >20</text>
<text x="362.8" y="112.7" font-size="5.5" text-anchor="end" style="font-family:'Liberation Sans',sans-serif;font-weight:bold" fill="#000" >10</text>
<text x="362.8" y="118.39999999999999" font-size="5.5" text-anchor="end" style="font-family:'Liberation Sans',sans-serif;font-weight:bold" fill="#000" >0</text>
<text x="362.8" y="125.1" font-size="5.5" text-anchor="end" style="font-family:'Liberation Sans',sans-serif;font-weight:bold" fill="#000" >-10</text>
<text x="362.8" y="131.20000000000002" font-size="5.5" text-anchor="end" style="font-family:'Liberation Sans',sans-serif;font-weight:bold" fill="#000" >-20</text>
<text x="365.4" y="139" font-size="5.5" text-anchor="middle" style="font-family:'Liberation Sans',sans-serif;font-weight:bold" fill="#000" >-200</text>
<text x="394" y="139" font-size="5.5" text-anchor="middle" style="font-family:'Liberation Sans',sans-serif;font-weight:bold" fill="#000" >200</text>
<text x="384.5" y="144.7" font-size="5.8" text-anchor="middle" style="font-family:'Liberation Sans',sans-serif;font-weight:bold" fill="#000" >Field (Oe)</text>
<text x="352" y="117" font-size="5.5" text-anchor="middle" style="font-family:'Liberation Sans',sans-serif;font-weight:bold" fill="#000" transform="rotate(-90 352 117)" dominant-baseline="central">M  (emu/g)</text>
</svg></body></html>
